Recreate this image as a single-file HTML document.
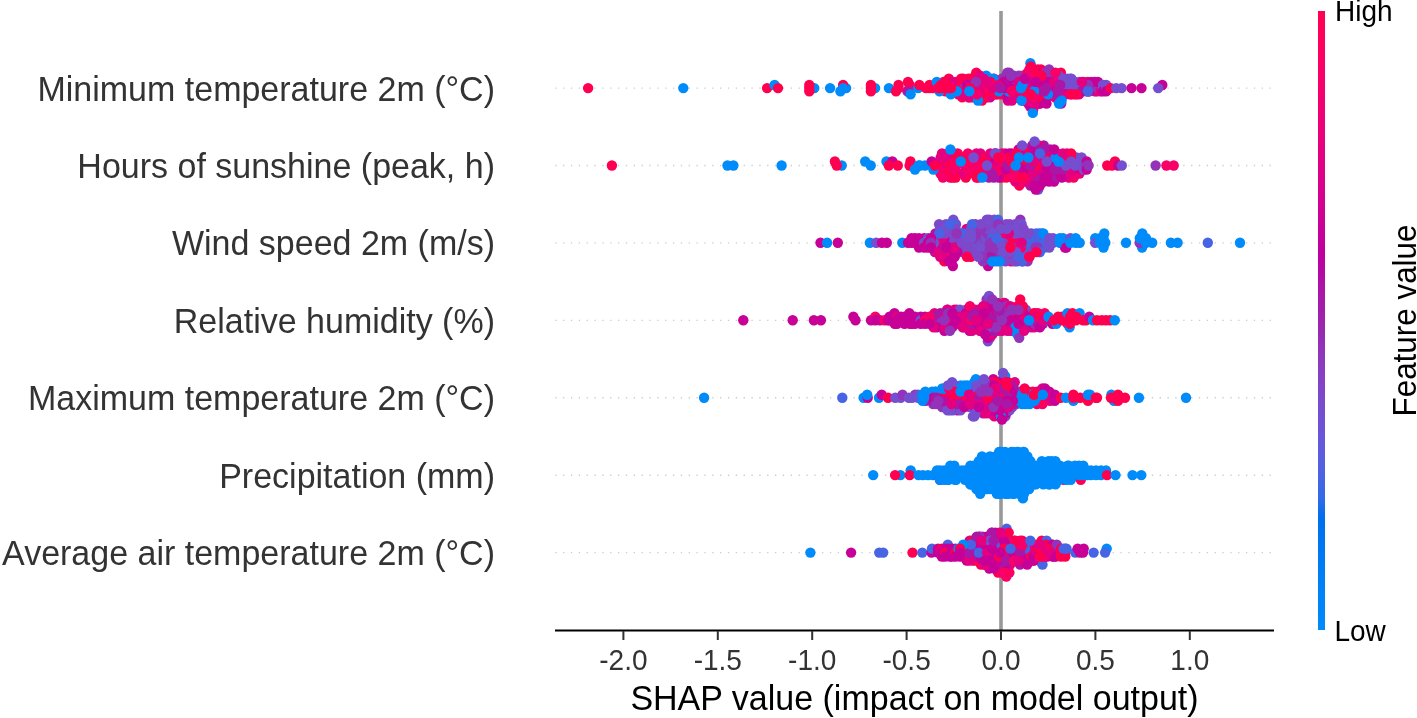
<!DOCTYPE html>
<html><head><meta charset="utf-8"><style>
html,body{margin:0;padding:0;background:#fff;}
body{width:1417px;height:718px;position:relative;overflow:hidden;font-family:"Liberation Sans",sans-serif;}
svg text{font-family:"Liberation Sans",sans-serif;}
.t{filter:grayscale(1)}
</style></head><body>
<svg width="1417" height="718" viewBox="0 0 1417 718" style="position:absolute;left:0;top:0"><defs><linearGradient id="cb" x1="0" y1="1" x2="0" y2="0"><stop offset="0.000" stop-color="#008bfb"/><stop offset="0.030" stop-color="#0086fa"/><stop offset="0.061" stop-color="#0082f8"/><stop offset="0.091" stop-color="#007ef6"/><stop offset="0.121" stop-color="#0079f3"/><stop offset="0.152" stop-color="#0074f0"/><stop offset="0.182" stop-color="#006fed"/><stop offset="0.212" stop-color="#306ae9"/><stop offset="0.242" stop-color="#4664e4"/><stop offset="0.273" stop-color="#575fdf"/><stop offset="0.303" stop-color="#6459da"/><stop offset="0.333" stop-color="#6f52d4"/><stop offset="0.364" stop-color="#794cce"/><stop offset="0.394" stop-color="#8244c7"/><stop offset="0.424" stop-color="#8a3cc0"/><stop offset="0.455" stop-color="#9233b9"/><stop offset="0.485" stop-color="#9829b1"/><stop offset="0.515" stop-color="#a01fab"/><stop offset="0.545" stop-color="#aa17a7"/><stop offset="0.576" stop-color="#b30aa3"/><stop offset="0.606" stop-color="#bc009f"/><stop offset="0.636" stop-color="#c5009a"/><stop offset="0.667" stop-color="#cd0095"/><stop offset="0.697" stop-color="#d40090"/><stop offset="0.727" stop-color="#db008a"/><stop offset="0.758" stop-color="#e10084"/><stop offset="0.788" stop-color="#e7007e"/><stop offset="0.818" stop-color="#ec0078"/><stop offset="0.848" stop-color="#f10072"/><stop offset="0.879" stop-color="#f6006c"/><stop offset="0.909" stop-color="#fa0065"/><stop offset="0.939" stop-color="#fd005f"/><stop offset="0.970" stop-color="#ff0058"/><stop offset="1.000" stop-color="#ff0051"/><stop offset="1" stop-color="#ff0051"/></linearGradient></defs><line x1="555.2" y1="88.1" x2="1274" y2="88.1" stroke="#cccccc" stroke-width="1.4" stroke-dasharray="1.3 6.55"/><line x1="555.2" y1="165.5" x2="1274" y2="165.5" stroke="#cccccc" stroke-width="1.4" stroke-dasharray="1.3 6.55"/><line x1="555.2" y1="242.9" x2="1274" y2="242.9" stroke="#cccccc" stroke-width="1.4" stroke-dasharray="1.3 6.55"/><line x1="555.2" y1="320.4" x2="1274" y2="320.4" stroke="#cccccc" stroke-width="1.4" stroke-dasharray="1.3 6.55"/><line x1="555.2" y1="397.8" x2="1274" y2="397.8" stroke="#cccccc" stroke-width="1.4" stroke-dasharray="1.3 6.55"/><line x1="555.2" y1="475.2" x2="1274" y2="475.2" stroke="#cccccc" stroke-width="1.4" stroke-dasharray="1.3 6.55"/><line x1="555.2" y1="552.6" x2="1274" y2="552.6" stroke="#cccccc" stroke-width="1.4" stroke-dasharray="1.3 6.55"/><rect x="999.2" y="11" width="3.6" height="619" fill="#999999"/><circle cx="985.2" cy="91.2" r="5.2" fill="#ff0051"/><circle cx="1054.9" cy="78.8" r="5.2" fill="#e50080"/><circle cx="1042.7" cy="97.4" r="5.2" fill="#ff0051"/><circle cx="1020.6" cy="85.0" r="5.2" fill="#aa17a7"/><circle cx="984.3" cy="85.0" r="5.2" fill="#c70098"/><circle cx="973.7" cy="88.1" r="5.2" fill="#c70098"/><circle cx="1032.6" cy="85.0" r="5.2" fill="#c70098"/><circle cx="1086.0" cy="91.2" r="5.2" fill="#9233b9"/><circle cx="1086.5" cy="88.1" r="5.2" fill="#9233b9"/><circle cx="1046.2" cy="78.8" r="5.2" fill="#c70098"/><circle cx="1009.2" cy="94.3" r="5.2" fill="#ff0051"/><circle cx="1002.5" cy="81.9" r="5.2" fill="#f80067"/><circle cx="1059.5" cy="94.3" r="5.2" fill="#ff0051"/><circle cx="1038.8" cy="103.6" r="5.2" fill="#c70098"/><circle cx="1016.1" cy="94.3" r="5.2" fill="#ff0051"/><circle cx="973.1" cy="78.8" r="5.2" fill="#e50080"/><circle cx="1037.6" cy="69.5" r="5.2" fill="#f80067"/><circle cx="1069.9" cy="85.0" r="5.2" fill="#764ed0"/><circle cx="1055.1" cy="78.8" r="5.2" fill="#764ed0"/><circle cx="1030.1" cy="103.6" r="5.2" fill="#c70098"/><circle cx="1005.8" cy="78.8" r="5.2" fill="#aa17a7"/><circle cx="1067.4" cy="78.8" r="5.2" fill="#764ed0"/><circle cx="1012.2" cy="85.0" r="5.2" fill="#aa17a7"/><circle cx="1068.4" cy="91.2" r="5.2" fill="#e50080"/><circle cx="1039.7" cy="94.3" r="5.2" fill="#f80067"/><circle cx="1079.1" cy="94.3" r="5.2" fill="#e50080"/><circle cx="1007.6" cy="85.0" r="5.2" fill="#e50080"/><circle cx="1032.7" cy="91.2" r="5.2" fill="#ff0051"/><circle cx="1006.1" cy="75.7" r="5.2" fill="#9233b9"/><circle cx="1061.7" cy="88.1" r="5.2" fill="#764ed0"/><circle cx="1015.3" cy="81.9" r="5.2" fill="#c70098"/><circle cx="1043.7" cy="85.0" r="5.2" fill="#e50080"/><circle cx="1041.0" cy="69.5" r="5.2" fill="#ff0051"/><circle cx="1057.6" cy="85.0" r="5.2" fill="#aa17a7"/><circle cx="1025.6" cy="81.9" r="5.2" fill="#e50080"/><circle cx="1013.5" cy="88.1" r="5.2" fill="#ff0051"/><circle cx="1021.3" cy="91.2" r="5.2" fill="#f80067"/><circle cx="1059.8" cy="100.5" r="5.2" fill="#c70098"/><circle cx="1094.0" cy="88.1" r="5.2" fill="#764ed0"/><circle cx="1026.0" cy="97.4" r="5.2" fill="#c70098"/><circle cx="1036.6" cy="85.0" r="5.2" fill="#e50080"/><circle cx="1087.8" cy="81.9" r="5.2" fill="#ff0051"/><circle cx="1031.0" cy="88.1" r="5.2" fill="#c70098"/><circle cx="1082.9" cy="88.1" r="5.2" fill="#c70098"/><circle cx="1040.0" cy="94.3" r="5.2" fill="#c70098"/><circle cx="1034.4" cy="88.1" r="5.2" fill="#c70098"/><circle cx="966.9" cy="88.1" r="5.2" fill="#ff0051"/><circle cx="1042.0" cy="100.5" r="5.2" fill="#aa17a7"/><circle cx="1077.8" cy="85.0" r="5.2" fill="#764ed0"/><circle cx="1010.4" cy="85.0" r="5.2" fill="#c70098"/><circle cx="978.6" cy="91.2" r="5.2" fill="#c70098"/><circle cx="958.8" cy="91.2" r="5.2" fill="#f80067"/><circle cx="1033.3" cy="94.3" r="5.2" fill="#f80067"/><circle cx="1013.1" cy="94.3" r="5.2" fill="#e50080"/><circle cx="986.0" cy="97.4" r="5.2" fill="#e50080"/><circle cx="1094.8" cy="91.2" r="5.2" fill="#aa17a7"/><circle cx="990.1" cy="97.4" r="5.2" fill="#c70098"/><circle cx="1031.2" cy="88.1" r="5.2" fill="#c70098"/><circle cx="1070.1" cy="78.8" r="5.2" fill="#764ed0"/><circle cx="1066.2" cy="88.1" r="5.2" fill="#764ed0"/><circle cx="1054.3" cy="85.0" r="5.2" fill="#c70098"/><circle cx="946.5" cy="85.0" r="5.2" fill="#f80067"/><circle cx="1042.7" cy="81.9" r="5.2" fill="#aa17a7"/><circle cx="1065.3" cy="81.9" r="5.2" fill="#764ed0"/><circle cx="976.9" cy="78.8" r="5.2" fill="#9233b9"/><circle cx="990.0" cy="85.0" r="5.2" fill="#c70098"/><circle cx="976.1" cy="97.4" r="5.2" fill="#ff0051"/><circle cx="1023.1" cy="81.9" r="5.2" fill="#e50080"/><circle cx="968.2" cy="78.8" r="5.2" fill="#f80067"/><circle cx="980.0" cy="75.7" r="5.2" fill="#e50080"/><circle cx="965.9" cy="81.9" r="5.2" fill="#9233b9"/><circle cx="1019.2" cy="75.7" r="5.2" fill="#9233b9"/><circle cx="1009.2" cy="72.6" r="5.2" fill="#9233b9"/><circle cx="1037.5" cy="81.9" r="5.2" fill="#e50080"/><circle cx="1013.9" cy="85.0" r="5.2" fill="#aa17a7"/><circle cx="1082.8" cy="85.0" r="5.2" fill="#c70098"/><circle cx="981.7" cy="94.3" r="5.2" fill="#e50080"/><circle cx="975.7" cy="91.2" r="5.2" fill="#ff0051"/><circle cx="1038.2" cy="91.2" r="5.2" fill="#e50080"/><circle cx="1030.8" cy="100.5" r="5.2" fill="#f80067"/><circle cx="1088.5" cy="91.2" r="5.2" fill="#aa17a7"/><circle cx="979.2" cy="78.8" r="5.2" fill="#ff0051"/><circle cx="1011.0" cy="94.3" r="5.2" fill="#e50080"/><circle cx="975.0" cy="85.0" r="5.2" fill="#aa17a7"/><circle cx="1004.0" cy="91.2" r="5.2" fill="#ff0051"/><circle cx="997.8" cy="91.2" r="5.2" fill="#e50080"/><circle cx="966.3" cy="94.3" r="5.2" fill="#e50080"/><circle cx="984.4" cy="81.9" r="5.2" fill="#e50080"/><circle cx="976.3" cy="72.6" r="5.2" fill="#ff0051"/><circle cx="1028.2" cy="103.6" r="5.2" fill="#c70098"/><circle cx="1019.1" cy="81.9" r="5.2" fill="#aa17a7"/><circle cx="1077.7" cy="88.1" r="5.2" fill="#764ed0"/><circle cx="1033.1" cy="78.8" r="5.2" fill="#c70098"/><circle cx="1032.6" cy="69.5" r="5.2" fill="#f80067"/><circle cx="1054.9" cy="75.7" r="5.2" fill="#e50080"/><circle cx="977.4" cy="85.0" r="5.2" fill="#c70098"/><circle cx="1053.1" cy="88.1" r="5.2" fill="#c70098"/><circle cx="962.2" cy="97.4" r="5.2" fill="#ff0051"/><circle cx="1069.0" cy="81.9" r="5.2" fill="#764ed0"/><circle cx="1091.7" cy="85.0" r="5.2" fill="#9233b9"/><circle cx="1007.0" cy="88.1" r="5.2" fill="#ff0051"/><circle cx="1000.6" cy="94.3" r="5.2" fill="#f80067"/><circle cx="975.5" cy="75.7" r="5.2" fill="#ff0051"/><circle cx="1066.0" cy="91.2" r="5.2" fill="#e50080"/><circle cx="1035.0" cy="85.0" r="5.2" fill="#c70098"/><circle cx="964.1" cy="88.1" r="5.2" fill="#ff0051"/><circle cx="1046.9" cy="97.4" r="5.2" fill="#c70098"/><circle cx="968.7" cy="97.4" r="5.2" fill="#ff0051"/><circle cx="1029.0" cy="100.5" r="5.2" fill="#c70098"/><circle cx="969.7" cy="91.2" r="5.2" fill="#ff0051"/><circle cx="1043.4" cy="81.9" r="5.2" fill="#aa17a7"/><circle cx="1058.6" cy="100.5" r="5.2" fill="#c70098"/><circle cx="988.9" cy="85.0" r="5.2" fill="#e50080"/><circle cx="1028.2" cy="91.2" r="5.2" fill="#ff0051"/><circle cx="963.4" cy="91.2" r="5.2" fill="#ff0051"/><circle cx="1004.2" cy="81.9" r="5.2" fill="#c70098"/><circle cx="990.4" cy="78.8" r="5.2" fill="#e50080"/><circle cx="1033.2" cy="109.8" r="5.2" fill="#ff0051"/><circle cx="1038.1" cy="100.5" r="5.2" fill="#e50080"/><circle cx="993.2" cy="85.0" r="5.2" fill="#ff0051"/><circle cx="1032.1" cy="97.4" r="5.2" fill="#e50080"/><circle cx="949.7" cy="85.0" r="5.2" fill="#ff0051"/><circle cx="1026.0" cy="91.2" r="5.2" fill="#aa17a7"/><circle cx="1074.8" cy="91.2" r="5.2" fill="#c70098"/><circle cx="1030.6" cy="97.4" r="5.2" fill="#ff0051"/><circle cx="1061.6" cy="91.2" r="5.2" fill="#aa17a7"/><circle cx="1005.5" cy="91.2" r="5.2" fill="#ff0051"/><circle cx="1025.0" cy="94.3" r="5.2" fill="#c70098"/><circle cx="1072.1" cy="91.2" r="5.2" fill="#c70098"/><circle cx="1032.4" cy="81.9" r="5.2" fill="#aa17a7"/><circle cx="1049.2" cy="78.8" r="5.2" fill="#aa17a7"/><circle cx="1055.7" cy="97.4" r="5.2" fill="#ff0051"/><circle cx="1009.7" cy="81.9" r="5.2" fill="#aa17a7"/><circle cx="1011.9" cy="100.5" r="5.2" fill="#e50080"/><circle cx="909.7" cy="88.1" r="5.2" fill="#ff0051"/><circle cx="999.1" cy="81.9" r="5.2" fill="#ff0051"/><circle cx="982.5" cy="88.1" r="5.2" fill="#c70098"/><circle cx="1017.3" cy="97.4" r="5.2" fill="#c70098"/><circle cx="978.1" cy="88.1" r="5.2" fill="#ff0051"/><circle cx="1097.0" cy="91.2" r="5.2" fill="#e50080"/><circle cx="958.5" cy="81.9" r="5.2" fill="#9233b9"/><circle cx="1042.1" cy="72.6" r="5.2" fill="#ff0051"/><circle cx="1081.7" cy="91.2" r="5.2" fill="#c70098"/><circle cx="995.2" cy="91.2" r="5.2" fill="#e50080"/><circle cx="948.2" cy="91.2" r="5.2" fill="#f80067"/><circle cx="1044.7" cy="78.8" r="5.2" fill="#f80067"/><circle cx="1073.9" cy="81.9" r="5.2" fill="#764ed0"/><circle cx="1027.0" cy="97.4" r="5.2" fill="#f80067"/><circle cx="983.9" cy="88.1" r="5.2" fill="#ff0051"/><circle cx="987.7" cy="94.3" r="5.2" fill="#ff0051"/><circle cx="1059.0" cy="81.9" r="5.2" fill="#764ed0"/><circle cx="1045.6" cy="100.5" r="5.2" fill="#aa17a7"/><circle cx="1039.7" cy="75.7" r="5.2" fill="#ff0051"/><circle cx="1098.4" cy="85.0" r="5.2" fill="#764ed0"/><circle cx="1011.5" cy="78.8" r="5.2" fill="#9233b9"/><circle cx="996.1" cy="94.3" r="5.2" fill="#ff0051"/><circle cx="1029.5" cy="81.9" r="5.2" fill="#c70098"/><circle cx="1043.9" cy="100.5" r="5.2" fill="#ff0051"/><circle cx="986.3" cy="97.4" r="5.2" fill="#f80067"/><circle cx="1007.4" cy="97.4" r="5.2" fill="#ff0051"/><circle cx="1016.9" cy="88.1" r="5.2" fill="#c70098"/><circle cx="1031.0" cy="85.0" r="5.2" fill="#e50080"/><circle cx="1012.8" cy="81.9" r="5.2" fill="#aa17a7"/><circle cx="1057.6" cy="88.1" r="5.2" fill="#c70098"/><circle cx="956.1" cy="81.9" r="5.2" fill="#e50080"/><circle cx="1091.5" cy="88.1" r="5.2" fill="#c70098"/><circle cx="1069.3" cy="88.1" r="5.2" fill="#c70098"/><circle cx="1014.0" cy="88.1" r="5.2" fill="#ff0051"/><circle cx="960.0" cy="85.0" r="5.2" fill="#ff0051"/><circle cx="1061.5" cy="81.9" r="5.2" fill="#764ed0"/><circle cx="1050.3" cy="85.0" r="5.2" fill="#ff0051"/><circle cx="1061.2" cy="85.0" r="5.2" fill="#764ed0"/><circle cx="958.2" cy="94.3" r="5.2" fill="#ff0051"/><circle cx="1033.8" cy="72.6" r="5.2" fill="#f80067"/><circle cx="1094.2" cy="81.9" r="5.2" fill="#aa17a7"/><circle cx="959.0" cy="88.1" r="5.2" fill="#e50080"/><circle cx="1077.6" cy="91.2" r="5.2" fill="#c70098"/><circle cx="1007.9" cy="100.5" r="5.2" fill="#e50080"/><circle cx="1045.7" cy="72.6" r="5.2" fill="#9233b9"/><circle cx="962.8" cy="85.0" r="5.2" fill="#9233b9"/><circle cx="1031.4" cy="75.7" r="5.2" fill="#aa17a7"/><circle cx="1059.2" cy="97.4" r="5.2" fill="#ff0051"/><circle cx="1008.0" cy="94.3" r="5.2" fill="#e50080"/><circle cx="1046.0" cy="85.0" r="5.2" fill="#c70098"/><circle cx="999.2" cy="91.2" r="5.2" fill="#e50080"/><circle cx="1082.4" cy="85.0" r="5.2" fill="#c70098"/><circle cx="909.6" cy="85.0" r="5.2" fill="#f80067"/><circle cx="1049.3" cy="91.2" r="5.2" fill="#c70098"/><circle cx="990.5" cy="94.3" r="5.2" fill="#e50080"/><circle cx="1046.5" cy="94.3" r="5.2" fill="#aa17a7"/><circle cx="945.4" cy="91.2" r="5.2" fill="#ff0051"/><circle cx="993.6" cy="81.9" r="5.2" fill="#e50080"/><circle cx="1058.2" cy="91.2" r="5.2" fill="#c70098"/><circle cx="1088.9" cy="91.2" r="5.2" fill="#c70098"/><circle cx="1076.2" cy="88.1" r="5.2" fill="#764ed0"/><circle cx="982.6" cy="94.3" r="5.2" fill="#ff0051"/><circle cx="960.1" cy="91.2" r="5.2" fill="#ff0051"/><circle cx="1007.3" cy="72.6" r="5.2" fill="#9233b9"/><circle cx="1098.3" cy="88.1" r="5.2" fill="#764ed0"/><circle cx="986.3" cy="88.1" r="5.2" fill="#e50080"/><circle cx="1047.4" cy="94.3" r="5.2" fill="#ff0051"/><circle cx="1065.4" cy="85.0" r="5.2" fill="#764ed0"/><circle cx="1030.4" cy="63.3" r="5.2" fill="#008bfb"/><circle cx="1045.2" cy="75.7" r="5.2" fill="#e50080"/><circle cx="980.2" cy="97.4" r="5.2" fill="#f80067"/><circle cx="1055.3" cy="75.7" r="5.2" fill="#ff0051"/><circle cx="1074.7" cy="94.3" r="5.2" fill="#ff0051"/><circle cx="1096.6" cy="85.0" r="5.2" fill="#764ed0"/><circle cx="1074.8" cy="81.9" r="5.2" fill="#764ed0"/><circle cx="1025.6" cy="75.7" r="5.2" fill="#ff0051"/><circle cx="965.1" cy="91.2" r="5.2" fill="#e50080"/><circle cx="1073.2" cy="85.0" r="5.2" fill="#764ed0"/><circle cx="1098.4" cy="88.1" r="5.2" fill="#764ed0"/><circle cx="1061.2" cy="103.6" r="5.2" fill="#aa17a7"/><circle cx="1039.8" cy="78.8" r="5.2" fill="#ff0051"/><circle cx="1017.2" cy="78.8" r="5.2" fill="#9233b9"/><circle cx="1021.5" cy="78.8" r="5.2" fill="#e50080"/><circle cx="1074.7" cy="85.0" r="5.2" fill="#764ed0"/><circle cx="972.1" cy="94.3" r="5.2" fill="#f80067"/><circle cx="1072.8" cy="88.1" r="5.2" fill="#764ed0"/><circle cx="1016.9" cy="85.0" r="5.2" fill="#e50080"/><circle cx="1093.9" cy="85.0" r="5.2" fill="#9233b9"/><circle cx="1025.6" cy="75.7" r="5.2" fill="#f80067"/><circle cx="1025.0" cy="100.5" r="5.2" fill="#ff0051"/><circle cx="1051.3" cy="94.3" r="5.2" fill="#aa17a7"/><circle cx="1047.8" cy="75.7" r="5.2" fill="#c70098"/><circle cx="1083.2" cy="88.1" r="5.2" fill="#aa17a7"/><circle cx="972.3" cy="81.9" r="5.2" fill="#9233b9"/><circle cx="952.4" cy="85.0" r="5.2" fill="#e50080"/><circle cx="986.7" cy="78.8" r="5.2" fill="#f80067"/><circle cx="970.5" cy="78.8" r="5.2" fill="#ff0051"/><circle cx="1055.1" cy="94.3" r="5.2" fill="#ff0051"/><circle cx="1065.7" cy="94.3" r="5.2" fill="#c70098"/><circle cx="949.5" cy="81.9" r="5.2" fill="#e50080"/><circle cx="971.2" cy="81.9" r="5.2" fill="#ff0051"/><circle cx="1079.3" cy="81.9" r="5.2" fill="#764ed0"/><circle cx="1028.7" cy="78.8" r="5.2" fill="#e50080"/><circle cx="1046.5" cy="88.1" r="5.2" fill="#e50080"/><circle cx="963.1" cy="78.8" r="5.2" fill="#ff0051"/><circle cx="1049.4" cy="72.6" r="5.2" fill="#9233b9"/><circle cx="957.9" cy="88.1" r="5.2" fill="#ff0051"/><circle cx="1095.1" cy="81.9" r="5.2" fill="#aa17a7"/><circle cx="1028.4" cy="78.8" r="5.2" fill="#e50080"/><circle cx="1014.2" cy="78.8" r="5.2" fill="#9233b9"/><circle cx="1014.0" cy="75.7" r="5.2" fill="#9233b9"/><circle cx="962.5" cy="81.9" r="5.2" fill="#9233b9"/><circle cx="1027.5" cy="85.0" r="5.2" fill="#e50080"/><circle cx="1036.0" cy="91.2" r="5.2" fill="#c70098"/><circle cx="1038.2" cy="78.8" r="5.2" fill="#c70098"/><circle cx="993.4" cy="88.1" r="5.2" fill="#c70098"/><circle cx="991.1" cy="91.2" r="5.2" fill="#ff0051"/><circle cx="1048.1" cy="81.9" r="5.2" fill="#c70098"/><circle cx="961.2" cy="78.8" r="5.2" fill="#ff0051"/><circle cx="1016.6" cy="97.4" r="5.2" fill="#c70098"/><circle cx="1031.0" cy="66.4" r="5.2" fill="#ff0051"/><circle cx="1036.7" cy="72.6" r="5.2" fill="#e50080"/><circle cx="971.1" cy="94.3" r="5.2" fill="#ff0051"/><circle cx="1030.1" cy="78.8" r="5.2" fill="#c70098"/><circle cx="1017.0" cy="91.2" r="5.2" fill="#ff0051"/><circle cx="1051.8" cy="91.2" r="5.2" fill="#c70098"/><circle cx="1091.3" cy="81.9" r="5.2" fill="#c70098"/><circle cx="1060.9" cy="72.6" r="5.2" fill="#ff0051"/><circle cx="1028.4" cy="75.7" r="5.2" fill="#e50080"/><circle cx="1050.6" cy="88.1" r="5.2" fill="#aa17a7"/><circle cx="907.4" cy="91.2" r="5.2" fill="#aa17a7"/><circle cx="1002.0" cy="78.8" r="5.2" fill="#9233b9"/><circle cx="1025.6" cy="85.0" r="5.2" fill="#aa17a7"/><circle cx="1009.6" cy="88.1" r="5.2" fill="#c70098"/><circle cx="1059.1" cy="88.1" r="5.2" fill="#aa17a7"/><circle cx="1040.1" cy="85.0" r="5.2" fill="#c70098"/><circle cx="1010.1" cy="91.2" r="5.2" fill="#ff0051"/><circle cx="1061.1" cy="94.3" r="5.2" fill="#e50080"/><circle cx="1022.4" cy="75.7" r="5.2" fill="#9233b9"/><circle cx="945.2" cy="88.1" r="5.2" fill="#ff0051"/><circle cx="1041.3" cy="88.1" r="5.2" fill="#c70098"/><circle cx="1083.5" cy="81.9" r="5.2" fill="#c70098"/><circle cx="1023.9" cy="88.1" r="5.2" fill="#aa17a7"/><circle cx="943.6" cy="81.9" r="5.2" fill="#ff0051"/><circle cx="1044.4" cy="97.4" r="5.2" fill="#ff0051"/><circle cx="1052.7" cy="81.9" r="5.2" fill="#c70098"/><circle cx="994.0" cy="78.8" r="5.2" fill="#f80067"/><circle cx="1032.0" cy="94.3" r="5.2" fill="#c70098"/><circle cx="1010.7" cy="75.7" r="5.2" fill="#9233b9"/><circle cx="971.0" cy="85.0" r="5.2" fill="#e50080"/><circle cx="1034.5" cy="75.7" r="5.2" fill="#e50080"/><circle cx="1009.6" cy="78.8" r="5.2" fill="#c70098"/><circle cx="1059.8" cy="78.8" r="5.2" fill="#764ed0"/><circle cx="1040.1" cy="103.6" r="5.2" fill="#c70098"/><circle cx="1033.1" cy="72.6" r="5.2" fill="#ff0051"/><circle cx="1034.4" cy="100.5" r="5.2" fill="#ff0051"/><circle cx="1005.3" cy="94.3" r="5.2" fill="#f80067"/><circle cx="1026.7" cy="88.1" r="5.2" fill="#e50080"/><circle cx="981.5" cy="81.9" r="5.2" fill="#9233b9"/><circle cx="1029.5" cy="69.5" r="5.2" fill="#ff0051"/><circle cx="1033.7" cy="103.6" r="5.2" fill="#ff0051"/><circle cx="987.5" cy="91.2" r="5.2" fill="#ff0051"/><circle cx="1022.7" cy="100.5" r="5.2" fill="#c70098"/><circle cx="1037.2" cy="97.4" r="5.2" fill="#ff0051"/><circle cx="996.9" cy="94.3" r="5.2" fill="#ff0051"/><circle cx="1030.3" cy="106.7" r="5.2" fill="#c70098"/><circle cx="979.3" cy="85.0" r="5.2" fill="#e50080"/><circle cx="980.1" cy="91.2" r="5.2" fill="#e50080"/><circle cx="1018.9" cy="81.9" r="5.2" fill="#e50080"/><circle cx="998.4" cy="88.1" r="5.2" fill="#c70098"/><circle cx="1088.0" cy="85.0" r="5.2" fill="#9233b9"/><circle cx="986.2" cy="75.7" r="5.2" fill="#008bfb"/><circle cx="972.7" cy="97.4" r="5.2" fill="#ff0051"/><circle cx="1058.8" cy="75.7" r="5.2" fill="#764ed0"/><circle cx="948.8" cy="78.8" r="5.2" fill="#ff0051"/><circle cx="1046.5" cy="103.6" r="5.2" fill="#c70098"/><circle cx="1021.0" cy="94.3" r="5.2" fill="#ff0051"/><circle cx="1032.8" cy="112.9" r="5.2" fill="#008bfb"/><circle cx="1060.0" cy="81.9" r="5.2" fill="#764ed0"/><circle cx="982.0" cy="100.5" r="5.2" fill="#ff0051"/><circle cx="993.5" cy="78.8" r="5.2" fill="#008bfb"/><circle cx="1003.8" cy="81.9" r="5.2" fill="#c70098"/><circle cx="1022.2" cy="88.1" r="5.2" fill="#aa17a7"/><circle cx="969.6" cy="97.4" r="5.2" fill="#e50080"/><circle cx="1055.1" cy="97.4" r="5.2" fill="#e50080"/><circle cx="1055.3" cy="94.3" r="5.2" fill="#aa17a7"/><circle cx="967.1" cy="85.0" r="5.2" fill="#c70098"/><circle cx="1049.1" cy="69.5" r="5.2" fill="#9233b9"/><circle cx="1017.9" cy="94.3" r="5.2" fill="#ff0051"/><circle cx="955.4" cy="85.0" r="5.2" fill="#ff0051"/><circle cx="1087.9" cy="91.2" r="5.2" fill="#4664e4"/><circle cx="954.1" cy="91.2" r="5.2" fill="#ff0051"/><circle cx="1036.5" cy="88.1" r="5.2" fill="#c70098"/><circle cx="950.8" cy="94.3" r="5.2" fill="#008bfb"/><circle cx="1034.2" cy="103.6" r="5.2" fill="#e50080"/><circle cx="1076.3" cy="94.3" r="5.2" fill="#ff0051"/><circle cx="1015.5" cy="91.2" r="5.2" fill="#f80067"/><circle cx="1025.1" cy="94.3" r="5.2" fill="#e50080"/><circle cx="1003.8" cy="85.0" r="5.2" fill="#aa17a7"/><circle cx="990.3" cy="81.9" r="5.2" fill="#ff0051"/><circle cx="1061.6" cy="100.5" r="5.2" fill="#008bfb"/><circle cx="1100.7" cy="91.2" r="5.2" fill="#e50080"/><circle cx="962.1" cy="94.3" r="5.2" fill="#e50080"/><circle cx="948.0" cy="88.1" r="5.2" fill="#ff0051"/><circle cx="1007.7" cy="97.4" r="5.2" fill="#c70098"/><circle cx="1062.7" cy="78.8" r="5.2" fill="#764ed0"/><circle cx="1028.5" cy="100.5" r="5.2" fill="#e50080"/><circle cx="952.3" cy="81.9" r="5.2" fill="#e50080"/><circle cx="1053.3" cy="91.2" r="5.2" fill="#c70098"/><circle cx="1081.9" cy="81.9" r="5.2" fill="#e50080"/><circle cx="1021.6" cy="97.4" r="5.2" fill="#e50080"/><circle cx="1048.0" cy="94.3" r="5.2" fill="#008bfb"/><circle cx="998.9" cy="91.2" r="5.2" fill="#008bfb"/><circle cx="908.0" cy="81.9" r="5.2" fill="#ff0051"/><circle cx="1098.0" cy="81.9" r="5.2" fill="#c70098"/><circle cx="1041.1" cy="91.2" r="5.2" fill="#e50080"/><circle cx="1012.7" cy="97.4" r="5.2" fill="#e50080"/><circle cx="1021.5" cy="100.5" r="5.2" fill="#008bfb"/><circle cx="978.0" cy="100.5" r="5.2" fill="#008bfb"/><circle cx="1010.9" cy="75.7" r="5.2" fill="#9233b9"/><circle cx="956.7" cy="91.2" r="5.2" fill="#008bfb"/><circle cx="951.0" cy="88.1" r="5.2" fill="#ff0051"/><circle cx="1041.4" cy="75.7" r="5.2" fill="#ff0051"/><circle cx="1055.5" cy="72.6" r="5.2" fill="#f80067"/><circle cx="1046.4" cy="88.1" r="5.2" fill="#aa17a7"/><circle cx="1008.9" cy="91.2" r="5.2" fill="#008bfb"/><circle cx="1005.3" cy="88.1" r="5.2" fill="#c70098"/><circle cx="1024.8" cy="91.2" r="5.2" fill="#ff0051"/><circle cx="983.7" cy="78.8" r="5.2" fill="#e50080"/><circle cx="1012.1" cy="91.2" r="5.2" fill="#f80067"/><circle cx="1071.4" cy="78.8" r="5.2" fill="#764ed0"/><circle cx="976.9" cy="94.3" r="5.2" fill="#f80067"/><circle cx="979.4" cy="75.7" r="5.2" fill="#e50080"/><circle cx="1034.2" cy="91.2" r="5.2" fill="#008bfb"/><circle cx="1029.4" cy="72.6" r="5.2" fill="#f80067"/><circle cx="1021.0" cy="88.1" r="5.2" fill="#008bfb"/><circle cx="1054.2" cy="81.9" r="5.2" fill="#e50080"/><circle cx="992.7" cy="88.1" r="5.2" fill="#e50080"/><circle cx="1022.4" cy="85.0" r="5.2" fill="#008bfb"/><circle cx="1070.2" cy="94.3" r="5.2" fill="#e50080"/><circle cx="1059.0" cy="103.6" r="5.2" fill="#008bfb"/><circle cx="986.8" cy="81.9" r="5.2" fill="#e50080"/><circle cx="975.9" cy="81.9" r="5.2" fill="#9233b9"/><circle cx="1001.7" cy="85.0" r="5.2" fill="#c70098"/><circle cx="1033.5" cy="97.4" r="5.2" fill="#f80067"/><circle cx="998.4" cy="85.0" r="5.2" fill="#e50080"/><circle cx="1033.2" cy="69.5" r="5.2" fill="#ff0051"/><circle cx="910.6" cy="94.3" r="5.2" fill="#008bfb"/><circle cx="969.9" cy="88.1" r="5.2" fill="#ff0051"/><circle cx="1030.5" cy="94.3" r="5.2" fill="#ff0051"/><circle cx="1000.3" cy="88.1" r="5.2" fill="#aa17a7"/><circle cx="1027.5" cy="72.6" r="5.2" fill="#f80067"/><circle cx="1044.3" cy="91.2" r="5.2" fill="#aa17a7"/><circle cx="1071.4" cy="94.3" r="5.2" fill="#ff0051"/><circle cx="1024.8" cy="78.8" r="5.2" fill="#c70098"/><circle cx="1058.0" cy="91.2" r="5.2" fill="#aa17a7"/><circle cx="1035.7" cy="81.9" r="5.2" fill="#c70098"/><circle cx="1060.3" cy="85.0" r="5.2" fill="#aa17a7"/><circle cx="969.3" cy="91.2" r="5.2" fill="#008bfb"/><circle cx="588.1" cy="88.1" r="5.2" fill="#ff0051"/><circle cx="683.3" cy="88.1" r="5.2" fill="#008bfb"/><circle cx="767.1" cy="88.1" r="5.2" fill="#ff0051"/><circle cx="774.6" cy="85.0" r="5.2" fill="#008bfb"/><circle cx="778.0" cy="88.1" r="5.2" fill="#ff0051"/><circle cx="814.3" cy="88.1" r="5.2" fill="#008bfb"/><circle cx="809.3" cy="85.0" r="5.2" fill="#ff0051"/><circle cx="809.3" cy="88.1" r="5.2" fill="#ff0051"/><circle cx="809.3" cy="91.2" r="5.2" fill="#ff0051"/><circle cx="830.1" cy="88.1" r="5.2" fill="#008bfb"/><circle cx="846.1" cy="88.1" r="5.2" fill="#008bfb"/><circle cx="840.4" cy="91.2" r="5.2" fill="#008bfb"/><circle cx="843.1" cy="85.0" r="5.2" fill="#ff0051"/><circle cx="843.1" cy="88.1" r="5.2" fill="#008bfb"/><circle cx="875.1" cy="88.1" r="5.2" fill="#008bfb"/><circle cx="870.9" cy="85.0" r="5.2" fill="#ff0051"/><circle cx="870.9" cy="88.1" r="5.2" fill="#ff0051"/><circle cx="870.9" cy="91.2" r="5.2" fill="#ff0051"/><circle cx="888.9" cy="88.1" r="5.2" fill="#008bfb"/><circle cx="898.5" cy="85.0" r="5.2" fill="#ff0051"/><circle cx="898.5" cy="88.1" r="5.2" fill="#ff0051"/><circle cx="896.0" cy="91.2" r="5.2" fill="#ff0051"/><circle cx="918.1" cy="88.1" r="5.2" fill="#008bfb"/><circle cx="919.4" cy="85.0" r="5.2" fill="#ff0051"/><circle cx="926.0" cy="88.1" r="5.2" fill="#ff0051"/><circle cx="929.5" cy="85.0" r="5.2" fill="#ff0051"/><circle cx="929.5" cy="88.1" r="5.2" fill="#ff0051"/><circle cx="933.0" cy="88.1" r="5.2" fill="#ff0051"/><circle cx="936.8" cy="81.9" r="5.2" fill="#008bfb"/><circle cx="939.5" cy="91.2" r="5.2" fill="#008bfb"/><circle cx="938.0" cy="88.1" r="5.2" fill="#ff0051"/><circle cx="941.0" cy="85.0" r="5.2" fill="#ff0051"/><circle cx="941.0" cy="88.1" r="5.2" fill="#ff0051"/><circle cx="945.0" cy="81.9" r="5.2" fill="#ff0051"/><circle cx="945.0" cy="85.0" r="5.2" fill="#ff0051"/><circle cx="945.0" cy="88.1" r="5.2" fill="#ff0051"/><circle cx="1103.0" cy="85.0" r="5.2" fill="#764ed0"/><circle cx="1103.0" cy="88.1" r="5.2" fill="#764ed0"/><circle cx="1103.0" cy="91.2" r="5.2" fill="#c70098"/><circle cx="1106.2" cy="85.0" r="5.2" fill="#764ed0"/><circle cx="1106.2" cy="88.1" r="5.2" fill="#764ed0"/><circle cx="1106.2" cy="91.2" r="5.2" fill="#c70098"/><circle cx="1110.7" cy="88.1" r="5.2" fill="#ff0051"/><circle cx="1116.2" cy="88.1" r="5.2" fill="#764ed0"/><circle cx="1121.6" cy="88.1" r="5.2" fill="#764ed0"/><circle cx="1131.5" cy="88.1" r="5.2" fill="#c70098"/><circle cx="1141.5" cy="88.1" r="5.2" fill="#c70098"/><circle cx="1162.3" cy="85.0" r="5.2" fill="#c70098"/><circle cx="1158.2" cy="88.1" r="5.2" fill="#764ed0"/><circle cx="1021.8" cy="173.5" r="5.2" fill="#e50080"/><circle cx="953.9" cy="161.5" r="5.2" fill="#ff0051"/><circle cx="1006.2" cy="177.5" r="5.2" fill="#ff0051"/><circle cx="1032.8" cy="181.5" r="5.2" fill="#e50080"/><circle cx="989.5" cy="169.5" r="5.2" fill="#e50080"/><circle cx="1049.7" cy="177.5" r="5.2" fill="#e50080"/><circle cx="979.6" cy="173.5" r="5.2" fill="#e50080"/><circle cx="1050.2" cy="149.5" r="5.2" fill="#aa17a7"/><circle cx="941.6" cy="161.5" r="5.2" fill="#e50080"/><circle cx="1055.4" cy="157.5" r="5.2" fill="#008bfb"/><circle cx="1054.1" cy="161.5" r="5.2" fill="#c70098"/><circle cx="951.0" cy="157.5" r="5.2" fill="#ff0051"/><circle cx="996.0" cy="165.5" r="5.2" fill="#c70098"/><circle cx="1045.5" cy="173.5" r="5.2" fill="#e50080"/><circle cx="1001.9" cy="153.5" r="5.2" fill="#e50080"/><circle cx="1030.1" cy="153.5" r="5.2" fill="#ff0051"/><circle cx="1000.2" cy="165.5" r="5.2" fill="#c70098"/><circle cx="1037.3" cy="173.5" r="5.2" fill="#e50080"/><circle cx="974.8" cy="169.5" r="5.2" fill="#f80067"/><circle cx="1054.0" cy="181.5" r="5.2" fill="#c70098"/><circle cx="991.7" cy="161.5" r="5.2" fill="#e50080"/><circle cx="994.0" cy="169.5" r="5.2" fill="#c70098"/><circle cx="1071.1" cy="169.5" r="5.2" fill="#764ed0"/><circle cx="949.1" cy="161.5" r="5.2" fill="#ff0051"/><circle cx="1033.9" cy="149.5" r="5.2" fill="#aa17a7"/><circle cx="1037.2" cy="153.5" r="5.2" fill="#c70098"/><circle cx="996.5" cy="153.5" r="5.2" fill="#764ed0"/><circle cx="1016.1" cy="169.5" r="5.2" fill="#ff0051"/><circle cx="956.2" cy="165.5" r="5.2" fill="#ff0051"/><circle cx="1012.5" cy="165.5" r="5.2" fill="#c70098"/><circle cx="1076.5" cy="157.5" r="5.2" fill="#764ed0"/><circle cx="987.9" cy="157.5" r="5.2" fill="#e50080"/><circle cx="983.8" cy="173.5" r="5.2" fill="#ff0051"/><circle cx="1035.6" cy="181.5" r="5.2" fill="#c70098"/><circle cx="965.8" cy="177.5" r="5.2" fill="#ff0051"/><circle cx="1022.6" cy="153.5" r="5.2" fill="#e50080"/><circle cx="940.5" cy="173.5" r="5.2" fill="#f80067"/><circle cx="1011.4" cy="173.5" r="5.2" fill="#ff0051"/><circle cx="990.5" cy="165.5" r="5.2" fill="#c70098"/><circle cx="1061.1" cy="165.5" r="5.2" fill="#764ed0"/><circle cx="976.4" cy="153.5" r="5.2" fill="#e50080"/><circle cx="1043.8" cy="145.5" r="5.2" fill="#aa17a7"/><circle cx="1079.1" cy="165.5" r="5.2" fill="#764ed0"/><circle cx="1062.1" cy="157.5" r="5.2" fill="#aa17a7"/><circle cx="1076.2" cy="173.5" r="5.2" fill="#764ed0"/><circle cx="968.8" cy="173.5" r="5.2" fill="#ff0051"/><circle cx="1001.5" cy="177.5" r="5.2" fill="#ff0051"/><circle cx="1065.5" cy="161.5" r="5.2" fill="#764ed0"/><circle cx="1033.5" cy="153.5" r="5.2" fill="#f80067"/><circle cx="957.7" cy="153.5" r="5.2" fill="#f80067"/><circle cx="1053.3" cy="173.5" r="5.2" fill="#c70098"/><circle cx="1027.0" cy="157.5" r="5.2" fill="#e50080"/><circle cx="988.9" cy="177.5" r="5.2" fill="#aa17a7"/><circle cx="1045.8" cy="153.5" r="5.2" fill="#c70098"/><circle cx="984.0" cy="165.5" r="5.2" fill="#f80067"/><circle cx="1030.4" cy="185.5" r="5.2" fill="#aa17a7"/><circle cx="1069.1" cy="161.5" r="5.2" fill="#764ed0"/><circle cx="1024.8" cy="165.5" r="5.2" fill="#e50080"/><circle cx="1028.4" cy="161.5" r="5.2" fill="#c70098"/><circle cx="980.8" cy="161.5" r="5.2" fill="#ff0051"/><circle cx="1020.3" cy="149.5" r="5.2" fill="#e50080"/><circle cx="1060.3" cy="169.5" r="5.2" fill="#c70098"/><circle cx="955.4" cy="157.5" r="5.2" fill="#ff0051"/><circle cx="1018.9" cy="165.5" r="5.2" fill="#f80067"/><circle cx="1081.1" cy="169.5" r="5.2" fill="#764ed0"/><circle cx="967.2" cy="157.5" r="5.2" fill="#ff0051"/><circle cx="973.6" cy="157.5" r="5.2" fill="#ff0051"/><circle cx="1022.3" cy="181.5" r="5.2" fill="#ff0051"/><circle cx="1053.1" cy="165.5" r="5.2" fill="#e50080"/><circle cx="1033.2" cy="157.5" r="5.2" fill="#c70098"/><circle cx="967.9" cy="153.5" r="5.2" fill="#f80067"/><circle cx="983.6" cy="169.5" r="5.2" fill="#ff0051"/><circle cx="1068.8" cy="177.5" r="5.2" fill="#e50080"/><circle cx="1076.6" cy="161.5" r="5.2" fill="#764ed0"/><circle cx="1013.2" cy="173.5" r="5.2" fill="#ff0051"/><circle cx="1066.3" cy="157.5" r="5.2" fill="#f80067"/><circle cx="987.3" cy="161.5" r="5.2" fill="#e50080"/><circle cx="1039.4" cy="177.5" r="5.2" fill="#f80067"/><circle cx="1048.5" cy="153.5" r="5.2" fill="#e50080"/><circle cx="978.3" cy="177.5" r="5.2" fill="#f80067"/><circle cx="1027.4" cy="165.5" r="5.2" fill="#764ed0"/><circle cx="945.2" cy="165.5" r="5.2" fill="#f80067"/><circle cx="1034.9" cy="161.5" r="5.2" fill="#e50080"/><circle cx="1035.7" cy="145.5" r="5.2" fill="#008bfb"/><circle cx="1005.7" cy="173.5" r="5.2" fill="#ff0051"/><circle cx="968.3" cy="161.5" r="5.2" fill="#e50080"/><circle cx="1011.4" cy="169.5" r="5.2" fill="#e50080"/><circle cx="1067.1" cy="153.5" r="5.2" fill="#e50080"/><circle cx="1019.3" cy="185.5" r="5.2" fill="#ff0051"/><circle cx="980.7" cy="169.5" r="5.2" fill="#e50080"/><circle cx="992.4" cy="165.5" r="5.2" fill="#ff0051"/><circle cx="990.8" cy="173.5" r="5.2" fill="#e50080"/><circle cx="965.8" cy="169.5" r="5.2" fill="#f80067"/><circle cx="956.9" cy="161.5" r="5.2" fill="#f80067"/><circle cx="1071.1" cy="153.5" r="5.2" fill="#ff0051"/><circle cx="1038.2" cy="189.5" r="5.2" fill="#764ed0"/><circle cx="1045.7" cy="169.5" r="5.2" fill="#e50080"/><circle cx="1074.3" cy="169.5" r="5.2" fill="#764ed0"/><circle cx="1070.7" cy="165.5" r="5.2" fill="#764ed0"/><circle cx="1020.5" cy="157.5" r="5.2" fill="#c70098"/><circle cx="1022.6" cy="157.5" r="5.2" fill="#c70098"/><circle cx="1049.3" cy="169.5" r="5.2" fill="#aa17a7"/><circle cx="980.8" cy="165.5" r="5.2" fill="#ff0051"/><circle cx="1002.7" cy="161.5" r="5.2" fill="#ff0051"/><circle cx="942.6" cy="161.5" r="5.2" fill="#ff0051"/><circle cx="1020.9" cy="161.5" r="5.2" fill="#ff0051"/><circle cx="1039.9" cy="181.5" r="5.2" fill="#c70098"/><circle cx="1081.6" cy="157.5" r="5.2" fill="#764ed0"/><circle cx="1066.3" cy="169.5" r="5.2" fill="#764ed0"/><circle cx="980.2" cy="157.5" r="5.2" fill="#e50080"/><circle cx="1026.4" cy="173.5" r="5.2" fill="#aa17a7"/><circle cx="976.1" cy="173.5" r="5.2" fill="#ff0051"/><circle cx="1023.8" cy="181.5" r="5.2" fill="#f80067"/><circle cx="948.0" cy="153.5" r="5.2" fill="#f80067"/><circle cx="1049.2" cy="181.5" r="5.2" fill="#c70098"/><circle cx="1011.8" cy="153.5" r="5.2" fill="#ff0051"/><circle cx="1006.1" cy="165.5" r="5.2" fill="#aa17a7"/><circle cx="1025.3" cy="149.5" r="5.2" fill="#ff0051"/><circle cx="1027.4" cy="169.5" r="5.2" fill="#c70098"/><circle cx="1002.9" cy="173.5" r="5.2" fill="#ff0051"/><circle cx="945.1" cy="157.5" r="5.2" fill="#e50080"/><circle cx="1005.2" cy="153.5" r="5.2" fill="#e50080"/><circle cx="998.8" cy="177.5" r="5.2" fill="#c70098"/><circle cx="1070.9" cy="157.5" r="5.2" fill="#ff0051"/><circle cx="1081.2" cy="161.5" r="5.2" fill="#764ed0"/><circle cx="965.1" cy="165.5" r="5.2" fill="#f80067"/><circle cx="1038.7" cy="173.5" r="5.2" fill="#c70098"/><circle cx="950.4" cy="177.5" r="5.2" fill="#e50080"/><circle cx="1030.2" cy="177.5" r="5.2" fill="#c70098"/><circle cx="1044.8" cy="177.5" r="5.2" fill="#c70098"/><circle cx="1056.5" cy="177.5" r="5.2" fill="#aa17a7"/><circle cx="1063.9" cy="173.5" r="5.2" fill="#e50080"/><circle cx="962.7" cy="161.5" r="5.2" fill="#f80067"/><circle cx="940.9" cy="165.5" r="5.2" fill="#ff0051"/><circle cx="1034.9" cy="177.5" r="5.2" fill="#aa17a7"/><circle cx="995.2" cy="173.5" r="5.2" fill="#ff0051"/><circle cx="1004.5" cy="161.5" r="5.2" fill="#ff0051"/><circle cx="1064.1" cy="157.5" r="5.2" fill="#ff0051"/><circle cx="940.7" cy="157.5" r="5.2" fill="#e50080"/><circle cx="944.2" cy="169.5" r="5.2" fill="#e50080"/><circle cx="1016.6" cy="177.5" r="5.2" fill="#e50080"/><circle cx="1027.7" cy="177.5" r="5.2" fill="#ff0051"/><circle cx="950.3" cy="165.5" r="5.2" fill="#f80067"/><circle cx="945.4" cy="173.5" r="5.2" fill="#ff0051"/><circle cx="1048.9" cy="161.5" r="5.2" fill="#c70098"/><circle cx="1039.9" cy="185.5" r="5.2" fill="#c70098"/><circle cx="1015.4" cy="181.5" r="5.2" fill="#e50080"/><circle cx="996.6" cy="169.5" r="5.2" fill="#f80067"/><circle cx="1037.3" cy="169.5" r="5.2" fill="#e50080"/><circle cx="954.8" cy="173.5" r="5.2" fill="#ff0051"/><circle cx="1026.8" cy="181.5" r="5.2" fill="#e50080"/><circle cx="985.1" cy="161.5" r="5.2" fill="#ff0051"/><circle cx="1062.2" cy="165.5" r="5.2" fill="#764ed0"/><circle cx="1016.5" cy="173.5" r="5.2" fill="#c70098"/><circle cx="1049.0" cy="157.5" r="5.2" fill="#e50080"/><circle cx="1032.2" cy="145.5" r="5.2" fill="#aa17a7"/><circle cx="1002.3" cy="169.5" r="5.2" fill="#f80067"/><circle cx="1038.8" cy="145.5" r="5.2" fill="#e50080"/><circle cx="1030.6" cy="169.5" r="5.2" fill="#f80067"/><circle cx="953.9" cy="153.5" r="5.2" fill="#ff0051"/><circle cx="1019.3" cy="169.5" r="5.2" fill="#c70098"/><circle cx="1006.0" cy="169.5" r="5.2" fill="#c70098"/><circle cx="953.8" cy="173.5" r="5.2" fill="#e50080"/><circle cx="1018.4" cy="161.5" r="5.2" fill="#c70098"/><circle cx="946.9" cy="157.5" r="5.2" fill="#e50080"/><circle cx="1057.0" cy="153.5" r="5.2" fill="#e50080"/><circle cx="1035.7" cy="189.5" r="5.2" fill="#c70098"/><circle cx="955.3" cy="169.5" r="5.2" fill="#f80067"/><circle cx="1042.8" cy="165.5" r="5.2" fill="#c70098"/><circle cx="1022.0" cy="161.5" r="5.2" fill="#ff0051"/><circle cx="948.5" cy="173.5" r="5.2" fill="#ff0051"/><circle cx="1020.7" cy="153.5" r="5.2" fill="#e50080"/><circle cx="949.9" cy="169.5" r="5.2" fill="#ff0051"/><circle cx="994.9" cy="153.5" r="5.2" fill="#e50080"/><circle cx="938.0" cy="169.5" r="5.2" fill="#f80067"/><circle cx="1032.2" cy="173.5" r="5.2" fill="#e50080"/><circle cx="1071.2" cy="161.5" r="5.2" fill="#764ed0"/><circle cx="1018.6" cy="149.5" r="5.2" fill="#c70098"/><circle cx="976.6" cy="177.5" r="5.2" fill="#ff0051"/><circle cx="974.2" cy="161.5" r="5.2" fill="#ff0051"/><circle cx="962.3" cy="173.5" r="5.2" fill="#e50080"/><circle cx="1003.6" cy="157.5" r="5.2" fill="#c70098"/><circle cx="1038.0" cy="153.5" r="5.2" fill="#f80067"/><circle cx="1012.8" cy="161.5" r="5.2" fill="#aa17a7"/><circle cx="993.8" cy="177.5" r="5.2" fill="#aa17a7"/><circle cx="1034.4" cy="149.5" r="5.2" fill="#c70098"/><circle cx="980.5" cy="153.5" r="5.2" fill="#e50080"/><circle cx="950.2" cy="165.5" r="5.2" fill="#ff0051"/><circle cx="1051.0" cy="165.5" r="5.2" fill="#c70098"/><circle cx="962.1" cy="157.5" r="5.2" fill="#ff0051"/><circle cx="1043.6" cy="157.5" r="5.2" fill="#ff0051"/><circle cx="1009.2" cy="153.5" r="5.2" fill="#c70098"/><circle cx="1009.0" cy="157.5" r="5.2" fill="#ff0051"/><circle cx="1034.6" cy="141.5" r="5.2" fill="#764ed0"/><circle cx="1036.7" cy="157.5" r="5.2" fill="#c70098"/><circle cx="1048.3" cy="173.5" r="5.2" fill="#c70098"/><circle cx="1001.1" cy="157.5" r="5.2" fill="#f80067"/><circle cx="1079.5" cy="173.5" r="5.2" fill="#e50080"/><circle cx="1007.8" cy="165.5" r="5.2" fill="#aa17a7"/><circle cx="1037.3" cy="165.5" r="5.2" fill="#aa17a7"/><circle cx="1073.5" cy="173.5" r="5.2" fill="#c70098"/><circle cx="1036.7" cy="169.5" r="5.2" fill="#e50080"/><circle cx="1040.3" cy="161.5" r="5.2" fill="#e50080"/><circle cx="995.1" cy="161.5" r="5.2" fill="#e50080"/><circle cx="1016.3" cy="157.5" r="5.2" fill="#ff0051"/><circle cx="1073.7" cy="177.5" r="5.2" fill="#f80067"/><circle cx="952.9" cy="177.5" r="5.2" fill="#ff0051"/><circle cx="1044.0" cy="181.5" r="5.2" fill="#c70098"/><circle cx="1061.8" cy="177.5" r="5.2" fill="#c70098"/><circle cx="1034.7" cy="185.5" r="5.2" fill="#c70098"/><circle cx="942.9" cy="177.5" r="5.2" fill="#f80067"/><circle cx="1019.1" cy="177.5" r="5.2" fill="#ff0051"/><circle cx="992.1" cy="173.5" r="5.2" fill="#aa17a7"/><circle cx="1014.2" cy="157.5" r="5.2" fill="#e50080"/><circle cx="1039.4" cy="157.5" r="5.2" fill="#aa17a7"/><circle cx="969.1" cy="165.5" r="5.2" fill="#ff0051"/><circle cx="1012.1" cy="177.5" r="5.2" fill="#f80067"/><circle cx="1035.7" cy="165.5" r="5.2" fill="#ff0051"/><circle cx="1024.4" cy="173.5" r="5.2" fill="#e50080"/><circle cx="967.8" cy="169.5" r="5.2" fill="#f80067"/><circle cx="1070.0" cy="173.5" r="5.2" fill="#e50080"/><circle cx="1045.1" cy="161.5" r="5.2" fill="#e50080"/><circle cx="1015.0" cy="169.5" r="5.2" fill="#f80067"/><circle cx="1011.4" cy="161.5" r="5.2" fill="#ff0051"/><circle cx="955.7" cy="177.5" r="5.2" fill="#ff0051"/><circle cx="1060.1" cy="173.5" r="5.2" fill="#c70098"/><circle cx="953.6" cy="169.5" r="5.2" fill="#f80067"/><circle cx="1022.1" cy="145.5" r="5.2" fill="#764ed0"/><circle cx="991.6" cy="157.5" r="5.2" fill="#c70098"/><circle cx="1023.6" cy="169.5" r="5.2" fill="#c70098"/><circle cx="1039.8" cy="149.5" r="5.2" fill="#aa17a7"/><circle cx="985.7" cy="157.5" r="5.2" fill="#ff0051"/><circle cx="975.0" cy="165.5" r="5.2" fill="#f80067"/><circle cx="1043.6" cy="149.5" r="5.2" fill="#aa17a7"/><circle cx="1062.3" cy="169.5" r="5.2" fill="#aa17a7"/><circle cx="973.5" cy="157.5" r="5.2" fill="#764ed0"/><circle cx="990.3" cy="153.5" r="5.2" fill="#e50080"/><circle cx="1059.1" cy="161.5" r="5.2" fill="#764ed0"/><circle cx="1016.8" cy="153.5" r="5.2" fill="#ff0051"/><circle cx="960.8" cy="161.5" r="5.2" fill="#008bfb"/><circle cx="982.3" cy="177.5" r="5.2" fill="#008bfb"/><circle cx="995.0" cy="153.5" r="5.2" fill="#764ed0"/><circle cx="998.2" cy="157.5" r="5.2" fill="#ff0051"/><circle cx="1055.7" cy="157.5" r="5.2" fill="#008bfb"/><circle cx="1040.0" cy="153.5" r="5.2" fill="#4664e4"/><circle cx="987.0" cy="165.5" r="5.2" fill="#764ed0"/><circle cx="1054.7" cy="169.5" r="5.2" fill="#aa17a7"/><circle cx="1016.7" cy="165.5" r="5.2" fill="#c70098"/><circle cx="1023.3" cy="177.5" r="5.2" fill="#ff0051"/><circle cx="1054.2" cy="149.5" r="5.2" fill="#c70098"/><circle cx="1030.8" cy="165.5" r="5.2" fill="#aa17a7"/><circle cx="942.0" cy="153.5" r="5.2" fill="#e50080"/><circle cx="1062.9" cy="153.5" r="5.2" fill="#e50080"/><circle cx="950.4" cy="149.5" r="5.2" fill="#008bfb"/><circle cx="1033.6" cy="161.5" r="5.2" fill="#e50080"/><circle cx="1046.8" cy="161.5" r="5.2" fill="#764ed0"/><circle cx="1066.0" cy="165.5" r="5.2" fill="#764ed0"/><circle cx="1019.0" cy="157.5" r="5.2" fill="#008bfb"/><circle cx="1075.2" cy="165.5" r="5.2" fill="#764ed0"/><circle cx="1015.6" cy="165.5" r="5.2" fill="#008bfb"/><circle cx="1028.4" cy="157.5" r="5.2" fill="#008bfb"/><circle cx="1058.5" cy="161.5" r="5.2" fill="#008bfb"/><circle cx="611.9" cy="165.5" r="5.2" fill="#ff0051"/><circle cx="727.5" cy="165.5" r="5.2" fill="#008bfb"/><circle cx="733.4" cy="165.5" r="5.2" fill="#008bfb"/><circle cx="781.6" cy="165.5" r="5.2" fill="#008bfb"/><circle cx="841.7" cy="165.5" r="5.2" fill="#008bfb"/><circle cx="834.9" cy="161.5" r="5.2" fill="#ff0051"/><circle cx="836.7" cy="165.5" r="5.2" fill="#ff0051"/><circle cx="865.2" cy="161.5" r="5.2" fill="#008bfb"/><circle cx="870.7" cy="165.5" r="5.2" fill="#008bfb"/><circle cx="886.5" cy="161.5" r="5.2" fill="#008bfb"/><circle cx="892.4" cy="161.5" r="5.2" fill="#c70098"/><circle cx="888.8" cy="165.5" r="5.2" fill="#ff0051"/><circle cx="897.8" cy="165.5" r="5.2" fill="#ff0051"/><circle cx="910.5" cy="161.5" r="5.2" fill="#ff0051"/><circle cx="909.6" cy="165.5" r="5.2" fill="#ff0051"/><circle cx="915.0" cy="169.5" r="5.2" fill="#008bfb"/><circle cx="918.6" cy="165.5" r="5.2" fill="#008bfb"/><circle cx="920.0" cy="165.5" r="5.2" fill="#008bfb"/><circle cx="925.0" cy="165.5" r="5.2" fill="#008bfb"/><circle cx="931.7" cy="161.5" r="5.2" fill="#c70098"/><circle cx="933.4" cy="169.5" r="5.2" fill="#008bfb"/><circle cx="935.0" cy="165.5" r="5.2" fill="#ff0051"/><circle cx="1084.0" cy="161.5" r="5.2" fill="#764ed0"/><circle cx="1084.0" cy="165.5" r="5.2" fill="#764ed0"/><circle cx="1084.0" cy="169.5" r="5.2" fill="#764ed0"/><circle cx="1086.7" cy="161.5" r="5.2" fill="#c70098"/><circle cx="1086.7" cy="165.5" r="5.2" fill="#9233b9"/><circle cx="1086.7" cy="169.5" r="5.2" fill="#c70098"/><circle cx="1088.6" cy="165.5" r="5.2" fill="#9233b9"/><circle cx="1107.2" cy="165.5" r="5.2" fill="#ff0051"/><circle cx="1115.0" cy="161.5" r="5.2" fill="#ff0051"/><circle cx="1112.0" cy="165.5" r="5.2" fill="#ff0051"/><circle cx="1118.0" cy="165.5" r="5.2" fill="#c70098"/><circle cx="1121.8" cy="165.5" r="5.2" fill="#764ed0"/><circle cx="1155.6" cy="165.5" r="5.2" fill="#9233b9"/><circle cx="1166.4" cy="165.5" r="5.2" fill="#f80067"/><circle cx="1173.7" cy="165.5" r="5.2" fill="#f80067"/><circle cx="1045.0" cy="242.8" r="5.2" fill="#7f47c9"/><circle cx="944.3" cy="261.4" r="5.2" fill="#ff0051"/><circle cx="967.9" cy="252.1" r="5.2" fill="#7f47c9"/><circle cx="1020.0" cy="256.8" r="5.2" fill="#764ed0"/><circle cx="1015.8" cy="242.8" r="5.2" fill="#ff0051"/><circle cx="1018.0" cy="238.2" r="5.2" fill="#ff0051"/><circle cx="1042.6" cy="242.8" r="5.2" fill="#764ed0"/><circle cx="947.9" cy="256.8" r="5.2" fill="#aa17a7"/><circle cx="935.4" cy="233.5" r="5.2" fill="#aa17a7"/><circle cx="984.2" cy="252.1" r="5.2" fill="#c70098"/><circle cx="940.4" cy="252.1" r="5.2" fill="#c70098"/><circle cx="1029.4" cy="247.5" r="5.2" fill="#4664e4"/><circle cx="972.7" cy="247.5" r="5.2" fill="#764ed0"/><circle cx="1041.7" cy="233.5" r="5.2" fill="#008bfb"/><circle cx="994.3" cy="219.6" r="5.2" fill="#764ed0"/><circle cx="956.9" cy="242.8" r="5.2" fill="#c70098"/><circle cx="1103.5" cy="238.2" r="5.2" fill="#008bfb"/><circle cx="1022.2" cy="233.5" r="5.2" fill="#7f47c9"/><circle cx="1017.1" cy="261.4" r="5.2" fill="#7f47c9"/><circle cx="1009.3" cy="256.8" r="5.2" fill="#4664e4"/><circle cx="984.1" cy="256.8" r="5.2" fill="#7f47c9"/><circle cx="1142.1" cy="247.5" r="5.2" fill="#008bfb"/><circle cx="954.4" cy="242.8" r="5.2" fill="#e50080"/><circle cx="976.0" cy="247.5" r="5.2" fill="#aa17a7"/><circle cx="1031.4" cy="233.5" r="5.2" fill="#7f47c9"/><circle cx="1012.7" cy="252.1" r="5.2" fill="#7f47c9"/><circle cx="1012.3" cy="233.5" r="5.2" fill="#7f47c9"/><circle cx="939.7" cy="247.5" r="5.2" fill="#aa17a7"/><circle cx="942.9" cy="242.8" r="5.2" fill="#c70098"/><circle cx="961.0" cy="238.2" r="5.2" fill="#4664e4"/><circle cx="960.2" cy="247.5" r="5.2" fill="#9233b9"/><circle cx="1103.5" cy="247.5" r="5.2" fill="#008bfb"/><circle cx="1007.5" cy="238.2" r="5.2" fill="#ff0051"/><circle cx="953.3" cy="219.6" r="5.2" fill="#764ed0"/><circle cx="994.6" cy="224.2" r="5.2" fill="#7f47c9"/><circle cx="990.6" cy="224.2" r="5.2" fill="#7f47c9"/><circle cx="980.3" cy="233.5" r="5.2" fill="#7f47c9"/><circle cx="1006.6" cy="256.8" r="5.2" fill="#4664e4"/><circle cx="967.0" cy="242.8" r="5.2" fill="#764ed0"/><circle cx="939.1" cy="224.2" r="5.2" fill="#7f47c9"/><circle cx="1005.1" cy="242.8" r="5.2" fill="#9233b9"/><circle cx="1025.0" cy="252.1" r="5.2" fill="#4664e4"/><circle cx="1019.0" cy="238.2" r="5.2" fill="#7f47c9"/><circle cx="1036.2" cy="233.5" r="5.2" fill="#4664e4"/><circle cx="1002.6" cy="233.5" r="5.2" fill="#ff0051"/><circle cx="989.3" cy="261.4" r="5.2" fill="#9233b9"/><circle cx="1022.6" cy="261.4" r="5.2" fill="#764ed0"/><circle cx="977.6" cy="252.1" r="5.2" fill="#764ed0"/><circle cx="934.9" cy="252.1" r="5.2" fill="#aa17a7"/><circle cx="948.3" cy="228.9" r="5.2" fill="#764ed0"/><circle cx="1027.6" cy="252.1" r="5.2" fill="#9233b9"/><circle cx="988.1" cy="266.1" r="5.2" fill="#c70098"/><circle cx="946.4" cy="238.2" r="5.2" fill="#764ed0"/><circle cx="962.1" cy="252.1" r="5.2" fill="#764ed0"/><circle cx="940.3" cy="247.5" r="5.2" fill="#c70098"/><circle cx="992.2" cy="261.4" r="5.2" fill="#7f47c9"/><circle cx="951.5" cy="261.4" r="5.2" fill="#aa17a7"/><circle cx="966.5" cy="228.9" r="5.2" fill="#e50080"/><circle cx="1010.5" cy="242.8" r="5.2" fill="#e50080"/><circle cx="990.1" cy="247.5" r="5.2" fill="#c70098"/><circle cx="1010.9" cy="261.4" r="5.2" fill="#ff0051"/><circle cx="988.7" cy="242.8" r="5.2" fill="#e50080"/><circle cx="951.9" cy="252.1" r="5.2" fill="#aa17a7"/><circle cx="986.8" cy="219.6" r="5.2" fill="#764ed0"/><circle cx="972.1" cy="233.5" r="5.2" fill="#764ed0"/><circle cx="1032.3" cy="242.8" r="5.2" fill="#4664e4"/><circle cx="985.6" cy="233.5" r="5.2" fill="#764ed0"/><circle cx="1006.8" cy="242.8" r="5.2" fill="#ff0051"/><circle cx="986.2" cy="238.2" r="5.2" fill="#9233b9"/><circle cx="1035.4" cy="238.2" r="5.2" fill="#764ed0"/><circle cx="941.9" cy="256.8" r="5.2" fill="#ff0051"/><circle cx="1002.9" cy="256.8" r="5.2" fill="#9233b9"/><circle cx="937.3" cy="238.2" r="5.2" fill="#c70098"/><circle cx="1139.6" cy="242.8" r="5.2" fill="#9233b9"/><circle cx="1006.3" cy="224.2" r="5.2" fill="#7f47c9"/><circle cx="1000.5" cy="247.5" r="5.2" fill="#7f47c9"/><circle cx="1025.6" cy="238.2" r="5.2" fill="#4664e4"/><circle cx="966.2" cy="233.5" r="5.2" fill="#aa17a7"/><circle cx="946.6" cy="233.5" r="5.2" fill="#9233b9"/><circle cx="989.5" cy="256.8" r="5.2" fill="#e50080"/><circle cx="998.5" cy="256.8" r="5.2" fill="#008bfb"/><circle cx="1044.5" cy="247.5" r="5.2" fill="#4664e4"/><circle cx="956.0" cy="224.2" r="5.2" fill="#7f47c9"/><circle cx="976.3" cy="242.8" r="5.2" fill="#c70098"/><circle cx="1016.2" cy="242.8" r="5.2" fill="#e50080"/><circle cx="946.0" cy="224.2" r="5.2" fill="#7f47c9"/><circle cx="942.7" cy="228.9" r="5.2" fill="#4664e4"/><circle cx="978.9" cy="238.2" r="5.2" fill="#c70098"/><circle cx="998.3" cy="252.1" r="5.2" fill="#764ed0"/><circle cx="1014.7" cy="256.8" r="5.2" fill="#7f47c9"/><circle cx="1020.2" cy="233.5" r="5.2" fill="#764ed0"/><circle cx="991.5" cy="252.1" r="5.2" fill="#764ed0"/><circle cx="937.8" cy="242.8" r="5.2" fill="#c70098"/><circle cx="934.7" cy="247.5" r="5.2" fill="#c70098"/><circle cx="949.1" cy="242.8" r="5.2" fill="#c70098"/><circle cx="970.9" cy="228.9" r="5.2" fill="#764ed0"/><circle cx="1009.8" cy="224.2" r="5.2" fill="#7f47c9"/><circle cx="961.4" cy="233.5" r="5.2" fill="#4664e4"/><circle cx="1016.2" cy="247.5" r="5.2" fill="#e50080"/><circle cx="940.4" cy="233.5" r="5.2" fill="#7f47c9"/><circle cx="1045.4" cy="238.2" r="5.2" fill="#4664e4"/><circle cx="1022.3" cy="247.5" r="5.2" fill="#9233b9"/><circle cx="954.0" cy="224.2" r="5.2" fill="#4664e4"/><circle cx="971.5" cy="242.8" r="5.2" fill="#9233b9"/><circle cx="970.6" cy="252.1" r="5.2" fill="#9233b9"/><circle cx="1009.1" cy="252.1" r="5.2" fill="#7f47c9"/><circle cx="1015.1" cy="224.2" r="5.2" fill="#7f47c9"/><circle cx="946.2" cy="252.1" r="5.2" fill="#c70098"/><circle cx="989.8" cy="228.9" r="5.2" fill="#764ed0"/><circle cx="982.0" cy="228.9" r="5.2" fill="#4664e4"/><circle cx="969.4" cy="247.5" r="5.2" fill="#9233b9"/><circle cx="1027.5" cy="242.8" r="5.2" fill="#9233b9"/><circle cx="1025.5" cy="256.8" r="5.2" fill="#7f47c9"/><circle cx="1027.5" cy="261.4" r="5.2" fill="#9233b9"/><circle cx="983.9" cy="242.8" r="5.2" fill="#aa17a7"/><circle cx="942.7" cy="242.8" r="5.2" fill="#e50080"/><circle cx="987.3" cy="252.1" r="5.2" fill="#4664e4"/><circle cx="978.6" cy="238.2" r="5.2" fill="#9233b9"/><circle cx="1005.2" cy="238.2" r="5.2" fill="#7f47c9"/><circle cx="978.5" cy="228.9" r="5.2" fill="#764ed0"/><circle cx="1013.3" cy="228.9" r="5.2" fill="#9233b9"/><circle cx="940.0" cy="228.9" r="5.2" fill="#7f47c9"/><circle cx="997.6" cy="233.5" r="5.2" fill="#7f47c9"/><circle cx="995.8" cy="256.8" r="5.2" fill="#9233b9"/><circle cx="995.8" cy="242.8" r="5.2" fill="#7f47c9"/><circle cx="1039.4" cy="242.8" r="5.2" fill="#4664e4"/><circle cx="990.9" cy="233.5" r="5.2" fill="#4664e4"/><circle cx="1022.5" cy="252.1" r="5.2" fill="#764ed0"/><circle cx="1012.9" cy="238.2" r="5.2" fill="#ff0051"/><circle cx="975.3" cy="224.2" r="5.2" fill="#9233b9"/><circle cx="955.1" cy="228.9" r="5.2" fill="#4664e4"/><circle cx="954.6" cy="256.8" r="5.2" fill="#e50080"/><circle cx="1142.3" cy="233.5" r="5.2" fill="#008bfb"/><circle cx="961.5" cy="238.2" r="5.2" fill="#764ed0"/><circle cx="1105.3" cy="242.8" r="5.2" fill="#008bfb"/><circle cx="985.7" cy="224.2" r="5.2" fill="#9233b9"/><circle cx="1028.8" cy="247.5" r="5.2" fill="#4664e4"/><circle cx="977.2" cy="233.5" r="5.2" fill="#9233b9"/><circle cx="970.8" cy="256.8" r="5.2" fill="#ff0051"/><circle cx="944.4" cy="256.8" r="5.2" fill="#c70098"/><circle cx="961.5" cy="247.5" r="5.2" fill="#7f47c9"/><circle cx="1007.9" cy="252.1" r="5.2" fill="#764ed0"/><circle cx="974.6" cy="252.1" r="5.2" fill="#7f47c9"/><circle cx="957.5" cy="238.2" r="5.2" fill="#9233b9"/><circle cx="936.7" cy="252.1" r="5.2" fill="#e50080"/><circle cx="1039.7" cy="247.5" r="5.2" fill="#4664e4"/><circle cx="1012.3" cy="247.5" r="5.2" fill="#9233b9"/><circle cx="980.5" cy="242.8" r="5.2" fill="#9233b9"/><circle cx="985.8" cy="238.2" r="5.2" fill="#764ed0"/><circle cx="983.1" cy="247.5" r="5.2" fill="#764ed0"/><circle cx="958.7" cy="242.8" r="5.2" fill="#4664e4"/><circle cx="1020.3" cy="219.6" r="5.2" fill="#9233b9"/><circle cx="982.0" cy="252.1" r="5.2" fill="#764ed0"/><circle cx="972.0" cy="228.9" r="5.2" fill="#7f47c9"/><circle cx="940.2" cy="256.8" r="5.2" fill="#e50080"/><circle cx="1018.5" cy="224.2" r="5.2" fill="#764ed0"/><circle cx="999.8" cy="238.2" r="5.2" fill="#4664e4"/><circle cx="995.8" cy="228.9" r="5.2" fill="#7f47c9"/><circle cx="1005.5" cy="233.5" r="5.2" fill="#f80067"/><circle cx="1032.4" cy="252.1" r="5.2" fill="#7f47c9"/><circle cx="953.1" cy="238.2" r="5.2" fill="#7f47c9"/><circle cx="1104.3" cy="233.5" r="5.2" fill="#008bfb"/><circle cx="989.2" cy="219.6" r="5.2" fill="#7f47c9"/><circle cx="1022.2" cy="261.4" r="5.2" fill="#4664e4"/><circle cx="944.3" cy="238.2" r="5.2" fill="#c70098"/><circle cx="1041.8" cy="238.2" r="5.2" fill="#4664e4"/><circle cx="1014.3" cy="261.4" r="5.2" fill="#7f47c9"/><circle cx="988.2" cy="247.5" r="5.2" fill="#9233b9"/><circle cx="975.5" cy="242.8" r="5.2" fill="#764ed0"/><circle cx="1036.3" cy="238.2" r="5.2" fill="#7f47c9"/><circle cx="980.0" cy="247.5" r="5.2" fill="#764ed0"/><circle cx="1021.1" cy="247.5" r="5.2" fill="#f80067"/><circle cx="982.9" cy="261.4" r="5.2" fill="#9233b9"/><circle cx="987.5" cy="233.5" r="5.2" fill="#9233b9"/><circle cx="954.5" cy="256.8" r="5.2" fill="#c70098"/><circle cx="1019.8" cy="228.9" r="5.2" fill="#7f47c9"/><circle cx="957.4" cy="252.1" r="5.2" fill="#c70098"/><circle cx="1012.1" cy="238.2" r="5.2" fill="#ff0051"/><circle cx="998.0" cy="219.6" r="5.2" fill="#4664e4"/><circle cx="934.3" cy="238.2" r="5.2" fill="#e50080"/><circle cx="995.3" cy="252.1" r="5.2" fill="#9233b9"/><circle cx="942.0" cy="238.2" r="5.2" fill="#e50080"/><circle cx="955.6" cy="228.9" r="5.2" fill="#7f47c9"/><circle cx="1016.2" cy="252.1" r="5.2" fill="#764ed0"/><circle cx="1036.5" cy="242.8" r="5.2" fill="#4664e4"/><circle cx="985.9" cy="224.2" r="5.2" fill="#764ed0"/><circle cx="1030.2" cy="238.2" r="5.2" fill="#4664e4"/><circle cx="1010.4" cy="228.9" r="5.2" fill="#764ed0"/><circle cx="1037.3" cy="247.5" r="5.2" fill="#9233b9"/><circle cx="987.2" cy="228.9" r="5.2" fill="#7f47c9"/><circle cx="992.1" cy="233.5" r="5.2" fill="#764ed0"/><circle cx="1006.5" cy="247.5" r="5.2" fill="#f80067"/><circle cx="980.9" cy="228.9" r="5.2" fill="#9233b9"/><circle cx="998.2" cy="224.2" r="5.2" fill="#9233b9"/><circle cx="1015.4" cy="233.5" r="5.2" fill="#764ed0"/><circle cx="1029.3" cy="256.8" r="5.2" fill="#f80067"/><circle cx="934.0" cy="242.8" r="5.2" fill="#764ed0"/><circle cx="990.5" cy="256.8" r="5.2" fill="#aa17a7"/><circle cx="945.0" cy="233.5" r="5.2" fill="#7f47c9"/><circle cx="944.8" cy="252.1" r="5.2" fill="#e50080"/><circle cx="952.9" cy="266.1" r="5.2" fill="#c70098"/><circle cx="980.8" cy="224.2" r="5.2" fill="#7f47c9"/><circle cx="1039.7" cy="252.1" r="5.2" fill="#008bfb"/><circle cx="973.5" cy="238.2" r="5.2" fill="#9233b9"/><circle cx="956.0" cy="247.5" r="5.2" fill="#aa17a7"/><circle cx="1003.0" cy="228.9" r="5.2" fill="#e50080"/><circle cx="953.1" cy="233.5" r="5.2" fill="#7f47c9"/><circle cx="996.0" cy="261.4" r="5.2" fill="#008bfb"/><circle cx="1035.6" cy="247.5" r="5.2" fill="#9233b9"/><circle cx="945.2" cy="247.5" r="5.2" fill="#aa17a7"/><circle cx="949.1" cy="261.4" r="5.2" fill="#c70098"/><circle cx="992.2" cy="238.2" r="5.2" fill="#9233b9"/><circle cx="944.7" cy="228.9" r="5.2" fill="#764ed0"/><circle cx="1022.2" cy="242.8" r="5.2" fill="#4664e4"/><circle cx="963.2" cy="233.5" r="5.2" fill="#4664e4"/><circle cx="997.6" cy="242.8" r="5.2" fill="#764ed0"/><circle cx="1029.6" cy="238.2" r="5.2" fill="#4664e4"/><circle cx="1039.7" cy="252.1" r="5.2" fill="#4664e4"/><circle cx="1039.2" cy="233.5" r="5.2" fill="#4664e4"/><circle cx="1016.0" cy="228.9" r="5.2" fill="#764ed0"/><circle cx="992.3" cy="261.4" r="5.2" fill="#008bfb"/><circle cx="982.1" cy="256.8" r="5.2" fill="#9233b9"/><circle cx="1021.6" cy="242.8" r="5.2" fill="#e50080"/><circle cx="1005.5" cy="261.4" r="5.2" fill="#7f47c9"/><circle cx="954.4" cy="247.5" r="5.2" fill="#e50080"/><circle cx="1008.8" cy="233.5" r="5.2" fill="#e50080"/><circle cx="961.8" cy="242.8" r="5.2" fill="#7f47c9"/><circle cx="956.8" cy="233.5" r="5.2" fill="#9233b9"/><circle cx="992.1" cy="247.5" r="5.2" fill="#9233b9"/><circle cx="1021.6" cy="224.2" r="5.2" fill="#764ed0"/><circle cx="1003.2" cy="247.5" r="5.2" fill="#764ed0"/><circle cx="1006.7" cy="228.9" r="5.2" fill="#764ed0"/><circle cx="1002.6" cy="252.1" r="5.2" fill="#764ed0"/><circle cx="992.1" cy="238.2" r="5.2" fill="#4664e4"/><circle cx="1043.4" cy="233.5" r="5.2" fill="#008bfb"/><circle cx="1010.3" cy="247.5" r="5.2" fill="#ff0051"/><circle cx="1028.3" cy="233.5" r="5.2" fill="#7f47c9"/><circle cx="972.1" cy="224.2" r="5.2" fill="#4664e4"/><circle cx="949.8" cy="224.2" r="5.2" fill="#4664e4"/><circle cx="968.6" cy="238.2" r="5.2" fill="#764ed0"/><circle cx="1018.9" cy="256.8" r="5.2" fill="#4664e4"/><circle cx="1023.5" cy="228.9" r="5.2" fill="#7f47c9"/><circle cx="946.3" cy="247.5" r="5.2" fill="#c70098"/><circle cx="970.8" cy="233.5" r="5.2" fill="#764ed0"/><circle cx="999.6" cy="261.4" r="5.2" fill="#008bfb"/><circle cx="971.1" cy="238.2" r="5.2" fill="#764ed0"/><circle cx="939.3" cy="233.5" r="5.2" fill="#4664e4"/><circle cx="1139.8" cy="238.2" r="5.2" fill="#008bfb"/><circle cx="1036.5" cy="252.1" r="5.2" fill="#ff0051"/><circle cx="990.2" cy="242.8" r="5.2" fill="#9233b9"/><circle cx="966.9" cy="247.5" r="5.2" fill="#7f47c9"/><circle cx="1000.9" cy="228.9" r="5.2" fill="#764ed0"/><circle cx="966.9" cy="256.8" r="5.2" fill="#ff0051"/><circle cx="996.5" cy="238.2" r="5.2" fill="#4664e4"/><circle cx="978.3" cy="256.8" r="5.2" fill="#7f47c9"/><circle cx="1029.5" cy="256.8" r="5.2" fill="#ff0051"/><circle cx="820.5" cy="242.8" r="5.2" fill="#c70098"/><circle cx="827.1" cy="242.8" r="5.2" fill="#008bfb"/><circle cx="837.8" cy="242.8" r="5.2" fill="#c70098"/><circle cx="869.9" cy="242.8" r="5.2" fill="#008bfb"/><circle cx="876.2" cy="242.8" r="5.2" fill="#764ed0"/><circle cx="881.9" cy="242.8" r="5.2" fill="#c70098"/><circle cx="886.8" cy="242.8" r="5.2" fill="#c70098"/><circle cx="902.3" cy="242.8" r="5.2" fill="#008bfb"/><circle cx="908.0" cy="242.8" r="5.2" fill="#c70098"/><circle cx="911.5" cy="238.2" r="5.2" fill="#c70098"/><circle cx="911.5" cy="242.8" r="5.2" fill="#c70098"/><circle cx="915.0" cy="238.2" r="5.2" fill="#c70098"/><circle cx="915.0" cy="242.8" r="5.2" fill="#c70098"/><circle cx="919.0" cy="238.2" r="5.2" fill="#c70098"/><circle cx="919.0" cy="242.8" r="5.2" fill="#c70098"/><circle cx="919.0" cy="247.5" r="5.2" fill="#c70098"/><circle cx="924.2" cy="238.2" r="5.2" fill="#c70098"/><circle cx="924.2" cy="242.8" r="5.2" fill="#764ed0"/><circle cx="924.2" cy="247.5" r="5.2" fill="#c70098"/><circle cx="928.0" cy="238.2" r="5.2" fill="#764ed0"/><circle cx="928.0" cy="242.8" r="5.2" fill="#c70098"/><circle cx="928.0" cy="247.5" r="5.2" fill="#c70098"/><circle cx="931.0" cy="238.2" r="5.2" fill="#c70098"/><circle cx="931.0" cy="242.8" r="5.2" fill="#9233b9"/><circle cx="931.0" cy="247.5" r="5.2" fill="#c70098"/><circle cx="1049.3" cy="238.2" r="5.2" fill="#764ed0"/><circle cx="1049.3" cy="242.8" r="5.2" fill="#764ed0"/><circle cx="1049.3" cy="247.5" r="5.2" fill="#764ed0"/><circle cx="1053.0" cy="238.2" r="5.2" fill="#764ed0"/><circle cx="1053.0" cy="242.8" r="5.2" fill="#764ed0"/><circle cx="1059.8" cy="238.2" r="5.2" fill="#008bfb"/><circle cx="1059.8" cy="242.8" r="5.2" fill="#008bfb"/><circle cx="1065.0" cy="247.5" r="5.2" fill="#c70098"/><circle cx="1063.0" cy="238.2" r="5.2" fill="#008bfb"/><circle cx="1063.0" cy="242.8" r="5.2" fill="#008bfb"/><circle cx="1066.3" cy="247.5" r="5.2" fill="#c70098"/><circle cx="1070.4" cy="238.2" r="5.2" fill="#764ed0"/><circle cx="1070.4" cy="242.8" r="5.2" fill="#008bfb"/><circle cx="1075.7" cy="238.2" r="5.2" fill="#008bfb"/><circle cx="1075.7" cy="242.8" r="5.2" fill="#008bfb"/><circle cx="1079.7" cy="242.8" r="5.2" fill="#008bfb"/><circle cx="1095.2" cy="238.2" r="5.2" fill="#008bfb"/><circle cx="1095.2" cy="242.8" r="5.2" fill="#764ed0"/><circle cx="1100.0" cy="238.2" r="5.2" fill="#008bfb"/><circle cx="1100.0" cy="242.8" r="5.2" fill="#008bfb"/><circle cx="1126.0" cy="242.8" r="5.2" fill="#008bfb"/><circle cx="1146.0" cy="238.2" r="5.2" fill="#008bfb"/><circle cx="1146.0" cy="242.8" r="5.2" fill="#008bfb"/><circle cx="1152.2" cy="242.8" r="5.2" fill="#008bfb"/><circle cx="1170.9" cy="242.8" r="5.2" fill="#008bfb"/><circle cx="1177.6" cy="242.8" r="5.2" fill="#008bfb"/><circle cx="1207.8" cy="242.8" r="5.2" fill="#4664e4"/><circle cx="1240.0" cy="242.8" r="5.2" fill="#008bfb"/><circle cx="973.9" cy="320.3" r="5.2" fill="#f80067"/><circle cx="1042.3" cy="316.8" r="5.2" fill="#ff0051"/><circle cx="962.6" cy="320.3" r="5.2" fill="#c70098"/><circle cx="937.3" cy="323.8" r="5.2" fill="#aa17a7"/><circle cx="1001.5" cy="309.8" r="5.2" fill="#9233b9"/><circle cx="966.3" cy="309.8" r="5.2" fill="#e50080"/><circle cx="1031.1" cy="327.3" r="5.2" fill="#aa17a7"/><circle cx="906.9" cy="316.8" r="5.2" fill="#e50080"/><circle cx="1006.8" cy="323.8" r="5.2" fill="#e50080"/><circle cx="949.8" cy="316.8" r="5.2" fill="#9233b9"/><circle cx="1025.9" cy="309.8" r="5.2" fill="#764ed0"/><circle cx="970.0" cy="327.3" r="5.2" fill="#c70098"/><circle cx="934.9" cy="323.8" r="5.2" fill="#c70098"/><circle cx="1004.7" cy="302.9" r="5.2" fill="#aa17a7"/><circle cx="962.0" cy="323.8" r="5.2" fill="#e50080"/><circle cx="1017.4" cy="306.3" r="5.2" fill="#ff0051"/><circle cx="988.8" cy="306.3" r="5.2" fill="#e50080"/><circle cx="1002.1" cy="330.8" r="5.2" fill="#c70098"/><circle cx="981.2" cy="309.8" r="5.2" fill="#c70098"/><circle cx="963.8" cy="323.8" r="5.2" fill="#c70098"/><circle cx="1013.8" cy="330.8" r="5.2" fill="#e50080"/><circle cx="1006.6" cy="320.3" r="5.2" fill="#aa17a7"/><circle cx="998.9" cy="313.3" r="5.2" fill="#e50080"/><circle cx="953.6" cy="320.3" r="5.2" fill="#9233b9"/><circle cx="947.2" cy="320.3" r="5.2" fill="#9233b9"/><circle cx="990.2" cy="320.3" r="5.2" fill="#aa17a7"/><circle cx="894.3" cy="316.8" r="5.2" fill="#c70098"/><circle cx="1033.7" cy="313.3" r="5.2" fill="#ff0051"/><circle cx="985.5" cy="330.8" r="5.2" fill="#e50080"/><circle cx="1007.9" cy="309.8" r="5.2" fill="#aa17a7"/><circle cx="980.8" cy="327.3" r="5.2" fill="#c70098"/><circle cx="989.7" cy="309.8" r="5.2" fill="#e50080"/><circle cx="985.2" cy="327.3" r="5.2" fill="#aa17a7"/><circle cx="978.5" cy="309.8" r="5.2" fill="#e50080"/><circle cx="1010.4" cy="313.3" r="5.2" fill="#e50080"/><circle cx="1022.8" cy="306.3" r="5.2" fill="#ff0051"/><circle cx="994.0" cy="323.8" r="5.2" fill="#aa17a7"/><circle cx="932.9" cy="320.3" r="5.2" fill="#c70098"/><circle cx="1018.3" cy="320.3" r="5.2" fill="#e50080"/><circle cx="1032.6" cy="316.8" r="5.2" fill="#ff0051"/><circle cx="939.5" cy="316.8" r="5.2" fill="#c70098"/><circle cx="1003.4" cy="323.8" r="5.2" fill="#c70098"/><circle cx="975.1" cy="309.8" r="5.2" fill="#e50080"/><circle cx="1010.5" cy="330.8" r="5.2" fill="#aa17a7"/><circle cx="944.4" cy="327.3" r="5.2" fill="#c70098"/><circle cx="996.0" cy="302.9" r="5.2" fill="#9233b9"/><circle cx="993.2" cy="313.3" r="5.2" fill="#c70098"/><circle cx="1024.7" cy="327.3" r="5.2" fill="#e50080"/><circle cx="947.6" cy="309.8" r="5.2" fill="#e50080"/><circle cx="1011.6" cy="323.8" r="5.2" fill="#e50080"/><circle cx="980.0" cy="320.3" r="5.2" fill="#c70098"/><circle cx="993.6" cy="306.3" r="5.2" fill="#c70098"/><circle cx="953.1" cy="316.8" r="5.2" fill="#e50080"/><circle cx="973.3" cy="327.3" r="5.2" fill="#e50080"/><circle cx="979.0" cy="327.3" r="5.2" fill="#c70098"/><circle cx="993.9" cy="320.3" r="5.2" fill="#e50080"/><circle cx="969.5" cy="330.8" r="5.2" fill="#c70098"/><circle cx="956.8" cy="309.8" r="5.2" fill="#c70098"/><circle cx="988.6" cy="330.8" r="5.2" fill="#c70098"/><circle cx="986.2" cy="309.8" r="5.2" fill="#c70098"/><circle cx="906.3" cy="320.3" r="5.2" fill="#e50080"/><circle cx="962.7" cy="327.3" r="5.2" fill="#aa17a7"/><circle cx="947.2" cy="309.8" r="5.2" fill="#e50080"/><circle cx="1034.3" cy="327.3" r="5.2" fill="#e50080"/><circle cx="995.4" cy="309.8" r="5.2" fill="#aa17a7"/><circle cx="999.4" cy="320.3" r="5.2" fill="#e50080"/><circle cx="1027.0" cy="323.8" r="5.2" fill="#aa17a7"/><circle cx="996.3" cy="316.8" r="5.2" fill="#9233b9"/><circle cx="987.9" cy="341.2" r="5.2" fill="#764ed0"/><circle cx="975.8" cy="323.8" r="5.2" fill="#c70098"/><circle cx="934.5" cy="313.3" r="5.2" fill="#e50080"/><circle cx="998.3" cy="330.8" r="5.2" fill="#e50080"/><circle cx="941.6" cy="316.8" r="5.2" fill="#c70098"/><circle cx="1004.1" cy="313.3" r="5.2" fill="#aa17a7"/><circle cx="997.7" cy="302.9" r="5.2" fill="#aa17a7"/><circle cx="1018.8" cy="316.8" r="5.2" fill="#c70098"/><circle cx="964.1" cy="320.3" r="5.2" fill="#f80067"/><circle cx="970.0" cy="313.3" r="5.2" fill="#c70098"/><circle cx="1014.4" cy="313.3" r="5.2" fill="#e50080"/><circle cx="1026.8" cy="316.8" r="5.2" fill="#c70098"/><circle cx="1022.8" cy="313.3" r="5.2" fill="#c70098"/><circle cx="894.5" cy="313.3" r="5.2" fill="#c70098"/><circle cx="958.6" cy="313.3" r="5.2" fill="#e50080"/><circle cx="1003.7" cy="302.9" r="5.2" fill="#e50080"/><circle cx="1002.6" cy="316.8" r="5.2" fill="#e50080"/><circle cx="941.9" cy="323.8" r="5.2" fill="#c70098"/><circle cx="954.3" cy="309.8" r="5.2" fill="#e50080"/><circle cx="989.7" cy="313.3" r="5.2" fill="#c70098"/><circle cx="940.1" cy="320.3" r="5.2" fill="#9233b9"/><circle cx="994.4" cy="316.8" r="5.2" fill="#9233b9"/><circle cx="909.9" cy="323.8" r="5.2" fill="#e50080"/><circle cx="983.3" cy="306.3" r="5.2" fill="#e50080"/><circle cx="969.9" cy="309.8" r="5.2" fill="#764ed0"/><circle cx="983.0" cy="313.3" r="5.2" fill="#e50080"/><circle cx="1007.5" cy="327.3" r="5.2" fill="#aa17a7"/><circle cx="945.8" cy="320.3" r="5.2" fill="#9233b9"/><circle cx="945.6" cy="323.8" r="5.2" fill="#e50080"/><circle cx="980.3" cy="316.8" r="5.2" fill="#aa17a7"/><circle cx="1013.1" cy="327.3" r="5.2" fill="#c70098"/><circle cx="990.0" cy="337.8" r="5.2" fill="#9233b9"/><circle cx="960.3" cy="313.3" r="5.2" fill="#e50080"/><circle cx="960.0" cy="309.8" r="5.2" fill="#764ed0"/><circle cx="1035.5" cy="313.3" r="5.2" fill="#ff0051"/><circle cx="1044.7" cy="313.3" r="5.2" fill="#f80067"/><circle cx="1001.4" cy="306.3" r="5.2" fill="#c70098"/><circle cx="1006.1" cy="306.3" r="5.2" fill="#9233b9"/><circle cx="992.4" cy="334.3" r="5.2" fill="#e50080"/><circle cx="1003.1" cy="313.3" r="5.2" fill="#c70098"/><circle cx="989.6" cy="334.3" r="5.2" fill="#e50080"/><circle cx="1042.9" cy="323.8" r="5.2" fill="#c70098"/><circle cx="986.1" cy="320.3" r="5.2" fill="#e50080"/><circle cx="949.2" cy="323.8" r="5.2" fill="#c70098"/><circle cx="972.1" cy="330.8" r="5.2" fill="#e50080"/><circle cx="1035.1" cy="320.3" r="5.2" fill="#aa17a7"/><circle cx="1004.6" cy="309.8" r="5.2" fill="#9233b9"/><circle cx="965.9" cy="313.3" r="5.2" fill="#c70098"/><circle cx="1010.3" cy="306.3" r="5.2" fill="#e50080"/><circle cx="1004.6" cy="316.8" r="5.2" fill="#aa17a7"/><circle cx="933.3" cy="316.8" r="5.2" fill="#aa17a7"/><circle cx="944.9" cy="313.3" r="5.2" fill="#c70098"/><circle cx="944.0" cy="313.3" r="5.2" fill="#aa17a7"/><circle cx="953.7" cy="323.8" r="5.2" fill="#e50080"/><circle cx="975.9" cy="316.8" r="5.2" fill="#c70098"/><circle cx="987.7" cy="337.8" r="5.2" fill="#c70098"/><circle cx="1038.1" cy="313.3" r="5.2" fill="#f80067"/><circle cx="992.2" cy="334.3" r="5.2" fill="#e50080"/><circle cx="988.7" cy="320.3" r="5.2" fill="#aa17a7"/><circle cx="909.4" cy="313.3" r="5.2" fill="#c70098"/><circle cx="940.2" cy="313.3" r="5.2" fill="#aa17a7"/><circle cx="1033.3" cy="320.3" r="5.2" fill="#e50080"/><circle cx="1014.4" cy="316.8" r="5.2" fill="#aa17a7"/><circle cx="1017.0" cy="313.3" r="5.2" fill="#e50080"/><circle cx="1020.9" cy="320.3" r="5.2" fill="#c70098"/><circle cx="945.5" cy="316.8" r="5.2" fill="#e50080"/><circle cx="989.0" cy="302.9" r="5.2" fill="#ff0051"/><circle cx="1009.6" cy="323.8" r="5.2" fill="#e50080"/><circle cx="985.5" cy="316.8" r="5.2" fill="#f80067"/><circle cx="1014.2" cy="320.3" r="5.2" fill="#e50080"/><circle cx="991.8" cy="323.8" r="5.2" fill="#c70098"/><circle cx="963.8" cy="327.3" r="5.2" fill="#e50080"/><circle cx="1023.3" cy="313.3" r="5.2" fill="#c70098"/><circle cx="1007.7" cy="316.8" r="5.2" fill="#9233b9"/><circle cx="1020.1" cy="316.8" r="5.2" fill="#c70098"/><circle cx="972.3" cy="323.8" r="5.2" fill="#aa17a7"/><circle cx="989.4" cy="330.8" r="5.2" fill="#aa17a7"/><circle cx="980.2" cy="330.8" r="5.2" fill="#aa17a7"/><circle cx="991.7" cy="316.8" r="5.2" fill="#aa17a7"/><circle cx="957.9" cy="323.8" r="5.2" fill="#e50080"/><circle cx="1008.9" cy="327.3" r="5.2" fill="#c70098"/><circle cx="1032.9" cy="323.8" r="5.2" fill="#c70098"/><circle cx="994.2" cy="330.8" r="5.2" fill="#aa17a7"/><circle cx="894.7" cy="323.8" r="5.2" fill="#c70098"/><circle cx="958.8" cy="316.8" r="5.2" fill="#e50080"/><circle cx="992.9" cy="302.9" r="5.2" fill="#e50080"/><circle cx="984.0" cy="323.8" r="5.2" fill="#e50080"/><circle cx="965.3" cy="316.8" r="5.2" fill="#e50080"/><circle cx="1038.9" cy="320.3" r="5.2" fill="#c70098"/><circle cx="949.4" cy="327.3" r="5.2" fill="#e50080"/><circle cx="894.1" cy="320.3" r="5.2" fill="#e50080"/><circle cx="971.1" cy="320.3" r="5.2" fill="#f80067"/><circle cx="999.7" cy="309.8" r="5.2" fill="#aa17a7"/><circle cx="972.4" cy="316.8" r="5.2" fill="#aa17a7"/><circle cx="991.5" cy="327.3" r="5.2" fill="#c70098"/><circle cx="988.4" cy="313.3" r="5.2" fill="#c70098"/><circle cx="936.6" cy="327.3" r="5.2" fill="#c70098"/><circle cx="988.5" cy="327.3" r="5.2" fill="#764ed0"/><circle cx="988.6" cy="309.8" r="5.2" fill="#e50080"/><circle cx="986.6" cy="299.4" r="5.2" fill="#9233b9"/><circle cx="989.6" cy="306.3" r="5.2" fill="#c70098"/><circle cx="1020.4" cy="309.8" r="5.2" fill="#ff0051"/><circle cx="988.1" cy="316.8" r="5.2" fill="#aa17a7"/><circle cx="944.4" cy="330.8" r="5.2" fill="#c70098"/><circle cx="948.3" cy="313.3" r="5.2" fill="#9233b9"/><circle cx="1011.7" cy="309.8" r="5.2" fill="#9233b9"/><circle cx="999.3" cy="323.8" r="5.2" fill="#e50080"/><circle cx="1034.7" cy="323.8" r="5.2" fill="#9233b9"/><circle cx="978.6" cy="313.3" r="5.2" fill="#e50080"/><circle cx="969.9" cy="306.3" r="5.2" fill="#f80067"/><circle cx="1023.5" cy="320.3" r="5.2" fill="#e50080"/><circle cx="1038.0" cy="323.8" r="5.2" fill="#aa17a7"/><circle cx="1011.2" cy="320.3" r="5.2" fill="#c70098"/><circle cx="1039.9" cy="327.3" r="5.2" fill="#c70098"/><circle cx="933.5" cy="327.3" r="5.2" fill="#e50080"/><circle cx="976.5" cy="316.8" r="5.2" fill="#c70098"/><circle cx="945.4" cy="327.3" r="5.2" fill="#e50080"/><circle cx="1018.4" cy="309.8" r="5.2" fill="#9233b9"/><circle cx="1000.0" cy="327.3" r="5.2" fill="#e50080"/><circle cx="1017.3" cy="334.3" r="5.2" fill="#008bfb"/><circle cx="1019.2" cy="337.8" r="5.2" fill="#9233b9"/><circle cx="1020.2" cy="299.4" r="5.2" fill="#ff0051"/><circle cx="989.1" cy="295.9" r="5.2" fill="#764ed0"/><circle cx="977.6" cy="323.8" r="5.2" fill="#c70098"/><circle cx="1015.3" cy="327.3" r="5.2" fill="#008bfb"/><circle cx="1002.0" cy="320.3" r="5.2" fill="#9233b9"/><circle cx="1036.8" cy="316.8" r="5.2" fill="#e50080"/><circle cx="952.5" cy="313.3" r="5.2" fill="#c70098"/><circle cx="961.8" cy="316.8" r="5.2" fill="#e50080"/><circle cx="1040.2" cy="316.8" r="5.2" fill="#ff0051"/><circle cx="1046.0" cy="320.3" r="5.2" fill="#008bfb"/><circle cx="974.9" cy="313.3" r="5.2" fill="#aa17a7"/><circle cx="983.9" cy="323.8" r="5.2" fill="#c70098"/><circle cx="952.3" cy="327.3" r="5.2" fill="#c70098"/><circle cx="983.5" cy="306.3" r="5.2" fill="#e50080"/><circle cx="949.9" cy="330.8" r="5.2" fill="#9233b9"/><circle cx="1007.4" cy="330.8" r="5.2" fill="#e50080"/><circle cx="995.2" cy="327.3" r="5.2" fill="#9233b9"/><circle cx="997.8" cy="306.3" r="5.2" fill="#9233b9"/><circle cx="976.4" cy="320.3" r="5.2" fill="#e50080"/><circle cx="996.2" cy="327.3" r="5.2" fill="#9233b9"/><circle cx="1018.6" cy="323.8" r="5.2" fill="#c70098"/><circle cx="944.2" cy="320.3" r="5.2" fill="#9233b9"/><circle cx="987.8" cy="323.8" r="5.2" fill="#e50080"/><circle cx="980.1" cy="330.8" r="5.2" fill="#e50080"/><circle cx="956.2" cy="320.3" r="5.2" fill="#c70098"/><circle cx="984.3" cy="313.3" r="5.2" fill="#c70098"/><circle cx="1024.1" cy="330.8" r="5.2" fill="#e50080"/><circle cx="992.2" cy="299.4" r="5.2" fill="#9233b9"/><circle cx="1029.0" cy="320.3" r="5.2" fill="#008bfb"/><circle cx="1043.7" cy="320.3" r="5.2" fill="#e50080"/><circle cx="985.0" cy="334.3" r="5.2" fill="#c70098"/><circle cx="743.3" cy="320.3" r="5.2" fill="#c70098"/><circle cx="792.7" cy="320.3" r="5.2" fill="#c70098"/><circle cx="813.9" cy="320.3" r="5.2" fill="#c70098"/><circle cx="820.9" cy="320.3" r="5.2" fill="#c70098"/><circle cx="853.4" cy="316.8" r="5.2" fill="#c70098"/><circle cx="855.5" cy="320.3" r="5.2" fill="#c70098"/><circle cx="871.0" cy="320.3" r="5.2" fill="#c70098"/><circle cx="875.3" cy="316.8" r="5.2" fill="#f80067"/><circle cx="875.3" cy="320.3" r="5.2" fill="#c70098"/><circle cx="880.0" cy="320.3" r="5.2" fill="#c70098"/><circle cx="884.5" cy="320.3" r="5.2" fill="#f80067"/><circle cx="888.0" cy="320.3" r="5.2" fill="#c70098"/><circle cx="889.5" cy="316.8" r="5.2" fill="#c70098"/><circle cx="889.5" cy="320.3" r="5.2" fill="#c70098"/><circle cx="897.0" cy="316.8" r="5.2" fill="#e50080"/><circle cx="897.0" cy="320.3" r="5.2" fill="#c70098"/><circle cx="897.0" cy="323.8" r="5.2" fill="#c70098"/><circle cx="901.0" cy="316.8" r="5.2" fill="#c70098"/><circle cx="901.0" cy="320.3" r="5.2" fill="#c70098"/><circle cx="904.5" cy="316.8" r="5.2" fill="#c70098"/><circle cx="904.5" cy="320.3" r="5.2" fill="#c70098"/><circle cx="904.5" cy="323.8" r="5.2" fill="#c70098"/><circle cx="912.0" cy="316.8" r="5.2" fill="#c70098"/><circle cx="912.0" cy="320.3" r="5.2" fill="#c70098"/><circle cx="912.0" cy="323.8" r="5.2" fill="#c70098"/><circle cx="915.0" cy="316.8" r="5.2" fill="#c70098"/><circle cx="915.0" cy="320.3" r="5.2" fill="#c70098"/><circle cx="915.0" cy="323.8" r="5.2" fill="#c70098"/><circle cx="920.7" cy="316.8" r="5.2" fill="#c70098"/><circle cx="920.7" cy="320.3" r="5.2" fill="#764ed0"/><circle cx="920.7" cy="323.8" r="5.2" fill="#c70098"/><circle cx="925.0" cy="316.8" r="5.2" fill="#c70098"/><circle cx="925.0" cy="320.3" r="5.2" fill="#f80067"/><circle cx="925.0" cy="323.8" r="5.2" fill="#c70098"/><circle cx="929.5" cy="316.8" r="5.2" fill="#f80067"/><circle cx="929.5" cy="320.3" r="5.2" fill="#f80067"/><circle cx="929.5" cy="323.8" r="5.2" fill="#c70098"/><circle cx="1048.5" cy="316.8" r="5.2" fill="#008bfb"/><circle cx="1052.4" cy="323.8" r="5.2" fill="#c70098"/><circle cx="1058.2" cy="316.8" r="5.2" fill="#ff0051"/><circle cx="1056.3" cy="323.8" r="5.2" fill="#008bfb"/><circle cx="1054.0" cy="320.3" r="5.2" fill="#ff0051"/><circle cx="1062.0" cy="316.8" r="5.2" fill="#ff0051"/><circle cx="1062.0" cy="320.3" r="5.2" fill="#ff0051"/><circle cx="1067.5" cy="323.8" r="5.2" fill="#ff0051"/><circle cx="1069.6" cy="327.3" r="5.2" fill="#008bfb"/><circle cx="1067.5" cy="313.3" r="5.2" fill="#008bfb"/><circle cx="1072.5" cy="313.3" r="5.2" fill="#ff0051"/><circle cx="1070.0" cy="316.8" r="5.2" fill="#ff0051"/><circle cx="1070.0" cy="320.3" r="5.2" fill="#ff0051"/><circle cx="1070.0" cy="323.8" r="5.2" fill="#ff0051"/><circle cx="1079.6" cy="313.3" r="5.2" fill="#008bfb"/><circle cx="1076.0" cy="316.8" r="5.2" fill="#ff0051"/><circle cx="1076.0" cy="320.3" r="5.2" fill="#ff0051"/><circle cx="1083.0" cy="320.3" r="5.2" fill="#ff0051"/><circle cx="1086.0" cy="320.3" r="5.2" fill="#ff0051"/><circle cx="1089.3" cy="316.8" r="5.2" fill="#c70098"/><circle cx="1093.0" cy="320.3" r="5.2" fill="#008bfb"/><circle cx="1101.8" cy="320.3" r="5.2" fill="#ff0051"/><circle cx="1097.0" cy="320.3" r="5.2" fill="#ff0051"/><circle cx="1106.0" cy="320.3" r="5.2" fill="#ff0051"/><circle cx="1110.2" cy="320.3" r="5.2" fill="#ff0051"/><circle cx="1114.8" cy="320.3" r="5.2" fill="#008bfb"/><circle cx="975.8" cy="410.2" r="5.2" fill="#c70098"/><circle cx="1007.8" cy="394.7" r="5.2" fill="#ff0051"/><circle cx="952.4" cy="385.4" r="5.2" fill="#764ed0"/><circle cx="1049.7" cy="397.8" r="5.2" fill="#aa17a7"/><circle cx="996.2" cy="388.5" r="5.2" fill="#c70098"/><circle cx="1005.0" cy="410.2" r="5.2" fill="#e50080"/><circle cx="941.1" cy="404.0" r="5.2" fill="#e50080"/><circle cx="989.1" cy="404.0" r="5.2" fill="#c70098"/><circle cx="983.0" cy="413.3" r="5.2" fill="#aa17a7"/><circle cx="1020.1" cy="391.6" r="5.2" fill="#008bfb"/><circle cx="942.0" cy="394.7" r="5.2" fill="#e50080"/><circle cx="998.5" cy="394.7" r="5.2" fill="#f80067"/><circle cx="988.0" cy="407.1" r="5.2" fill="#c70098"/><circle cx="987.2" cy="400.9" r="5.2" fill="#aa17a7"/><circle cx="969.9" cy="407.1" r="5.2" fill="#764ed0"/><circle cx="934.0" cy="400.9" r="5.2" fill="#e50080"/><circle cx="990.7" cy="391.6" r="5.2" fill="#ff0051"/><circle cx="940.4" cy="394.7" r="5.2" fill="#008bfb"/><circle cx="989.8" cy="413.3" r="5.2" fill="#e50080"/><circle cx="986.6" cy="410.2" r="5.2" fill="#c70098"/><circle cx="1005.4" cy="416.4" r="5.2" fill="#764ed0"/><circle cx="942.9" cy="391.6" r="5.2" fill="#008bfb"/><circle cx="939.0" cy="391.6" r="5.2" fill="#008bfb"/><circle cx="968.5" cy="388.5" r="5.2" fill="#008bfb"/><circle cx="948.0" cy="407.1" r="5.2" fill="#c70098"/><circle cx="1007.9" cy="388.5" r="5.2" fill="#c70098"/><circle cx="977.6" cy="394.7" r="5.2" fill="#f80067"/><circle cx="960.5" cy="404.0" r="5.2" fill="#aa17a7"/><circle cx="995.2" cy="394.7" r="5.2" fill="#f80067"/><circle cx="937.1" cy="394.7" r="5.2" fill="#c70098"/><circle cx="984.8" cy="404.0" r="5.2" fill="#c70098"/><circle cx="961.2" cy="400.9" r="5.2" fill="#e50080"/><circle cx="974.4" cy="416.4" r="5.2" fill="#764ed0"/><circle cx="1039.7" cy="397.8" r="5.2" fill="#008bfb"/><circle cx="1037.1" cy="391.6" r="5.2" fill="#e50080"/><circle cx="1024.1" cy="397.8" r="5.2" fill="#008bfb"/><circle cx="1004.2" cy="397.8" r="5.2" fill="#c70098"/><circle cx="939.3" cy="400.9" r="5.2" fill="#e50080"/><circle cx="1026.5" cy="394.7" r="5.2" fill="#008bfb"/><circle cx="978.8" cy="404.0" r="5.2" fill="#ff0051"/><circle cx="954.3" cy="397.8" r="5.2" fill="#c70098"/><circle cx="995.4" cy="407.1" r="5.2" fill="#c70098"/><circle cx="991.0" cy="385.4" r="5.2" fill="#aa17a7"/><circle cx="950.6" cy="407.1" r="5.2" fill="#c70098"/><circle cx="931.2" cy="397.8" r="5.2" fill="#e50080"/><circle cx="925.3" cy="391.6" r="5.2" fill="#008bfb"/><circle cx="984.5" cy="400.9" r="5.2" fill="#ff0051"/><circle cx="978.2" cy="382.3" r="5.2" fill="#764ed0"/><circle cx="955.5" cy="407.1" r="5.2" fill="#c70098"/><circle cx="933.2" cy="404.0" r="5.2" fill="#9233b9"/><circle cx="957.4" cy="410.2" r="5.2" fill="#c70098"/><circle cx="982.9" cy="397.8" r="5.2" fill="#ff0051"/><circle cx="961.6" cy="394.7" r="5.2" fill="#e50080"/><circle cx="993.0" cy="400.9" r="5.2" fill="#aa17a7"/><circle cx="977.1" cy="410.2" r="5.2" fill="#c70098"/><circle cx="959.8" cy="407.1" r="5.2" fill="#e50080"/><circle cx="935.0" cy="391.6" r="5.2" fill="#008bfb"/><circle cx="1017.7" cy="391.6" r="5.2" fill="#764ed0"/><circle cx="976.9" cy="404.0" r="5.2" fill="#aa17a7"/><circle cx="950.6" cy="400.9" r="5.2" fill="#c70098"/><circle cx="982.3" cy="394.7" r="5.2" fill="#9233b9"/><circle cx="976.8" cy="391.6" r="5.2" fill="#9233b9"/><circle cx="992.5" cy="388.5" r="5.2" fill="#f80067"/><circle cx="985.1" cy="391.6" r="5.2" fill="#c70098"/><circle cx="1009.3" cy="400.9" r="5.2" fill="#aa17a7"/><circle cx="995.9" cy="397.8" r="5.2" fill="#ff0051"/><circle cx="948.1" cy="391.6" r="5.2" fill="#008bfb"/><circle cx="1027.4" cy="400.9" r="5.2" fill="#008bfb"/><circle cx="1010.8" cy="394.7" r="5.2" fill="#764ed0"/><circle cx="960.6" cy="385.4" r="5.2" fill="#008bfb"/><circle cx="1017.4" cy="394.7" r="5.2" fill="#008bfb"/><circle cx="1003.8" cy="385.4" r="5.2" fill="#e50080"/><circle cx="986.0" cy="407.1" r="5.2" fill="#aa17a7"/><circle cx="1005.2" cy="376.1" r="5.2" fill="#008bfb"/><circle cx="982.4" cy="382.3" r="5.2" fill="#764ed0"/><circle cx="970.4" cy="400.9" r="5.2" fill="#e50080"/><circle cx="1003.3" cy="407.1" r="5.2" fill="#e50080"/><circle cx="974.3" cy="382.3" r="5.2" fill="#008bfb"/><circle cx="981.3" cy="385.4" r="5.2" fill="#9233b9"/><circle cx="994.7" cy="404.0" r="5.2" fill="#c70098"/><circle cx="990.7" cy="388.5" r="5.2" fill="#9233b9"/><circle cx="1011.9" cy="397.8" r="5.2" fill="#c70098"/><circle cx="1016.2" cy="404.0" r="5.2" fill="#764ed0"/><circle cx="1003.2" cy="382.3" r="5.2" fill="#ff0051"/><circle cx="1004.5" cy="400.9" r="5.2" fill="#c70098"/><circle cx="958.9" cy="391.6" r="5.2" fill="#008bfb"/><circle cx="1049.4" cy="391.6" r="5.2" fill="#c70098"/><circle cx="997.6" cy="391.6" r="5.2" fill="#c70098"/><circle cx="999.3" cy="407.1" r="5.2" fill="#f80067"/><circle cx="964.2" cy="400.9" r="5.2" fill="#ff0051"/><circle cx="945.4" cy="394.7" r="5.2" fill="#ff0051"/><circle cx="1002.7" cy="379.2" r="5.2" fill="#008bfb"/><circle cx="933.5" cy="394.7" r="5.2" fill="#aa17a7"/><circle cx="1014.7" cy="382.3" r="5.2" fill="#e50080"/><circle cx="983.6" cy="400.9" r="5.2" fill="#e50080"/><circle cx="995.4" cy="410.2" r="5.2" fill="#e50080"/><circle cx="993.3" cy="379.2" r="5.2" fill="#c70098"/><circle cx="1042.5" cy="404.0" r="5.2" fill="#f80067"/><circle cx="942.1" cy="407.1" r="5.2" fill="#9233b9"/><circle cx="1028.2" cy="391.6" r="5.2" fill="#e50080"/><circle cx="954.3" cy="388.5" r="5.2" fill="#008bfb"/><circle cx="1013.8" cy="391.6" r="5.2" fill="#008bfb"/><circle cx="932.3" cy="400.9" r="5.2" fill="#aa17a7"/><circle cx="940.9" cy="404.0" r="5.2" fill="#9233b9"/><circle cx="1036.9" cy="400.9" r="5.2" fill="#008bfb"/><circle cx="980.3" cy="400.9" r="5.2" fill="#f80067"/><circle cx="975.5" cy="400.9" r="5.2" fill="#c70098"/><circle cx="955.0" cy="385.4" r="5.2" fill="#764ed0"/><circle cx="1022.5" cy="397.8" r="5.2" fill="#008bfb"/><circle cx="947.3" cy="404.0" r="5.2" fill="#9233b9"/><circle cx="950.0" cy="394.7" r="5.2" fill="#764ed0"/><circle cx="990.5" cy="382.3" r="5.2" fill="#e50080"/><circle cx="1036.9" cy="404.0" r="5.2" fill="#f80067"/><circle cx="941.2" cy="397.8" r="5.2" fill="#c70098"/><circle cx="969.1" cy="397.8" r="5.2" fill="#e50080"/><circle cx="998.6" cy="385.4" r="5.2" fill="#ff0051"/><circle cx="947.5" cy="410.2" r="5.2" fill="#764ed0"/><circle cx="1032.8" cy="391.6" r="5.2" fill="#ff0051"/><circle cx="994.0" cy="413.3" r="5.2" fill="#c70098"/><circle cx="1044.9" cy="397.8" r="5.2" fill="#008bfb"/><circle cx="955.1" cy="404.0" r="5.2" fill="#c70098"/><circle cx="984.6" cy="388.5" r="5.2" fill="#9233b9"/><circle cx="967.7" cy="391.6" r="5.2" fill="#aa17a7"/><circle cx="980.1" cy="388.5" r="5.2" fill="#9233b9"/><circle cx="990.3" cy="382.3" r="5.2" fill="#e50080"/><circle cx="1008.2" cy="397.8" r="5.2" fill="#e50080"/><circle cx="1013.6" cy="388.5" r="5.2" fill="#aa17a7"/><circle cx="948.3" cy="397.8" r="5.2" fill="#e50080"/><circle cx="1008.2" cy="382.3" r="5.2" fill="#ff0051"/><circle cx="988.1" cy="410.2" r="5.2" fill="#e50080"/><circle cx="963.4" cy="391.6" r="5.2" fill="#e50080"/><circle cx="1031.2" cy="394.7" r="5.2" fill="#008bfb"/><circle cx="977.3" cy="388.5" r="5.2" fill="#764ed0"/><circle cx="977.8" cy="385.4" r="5.2" fill="#764ed0"/><circle cx="1029.7" cy="397.8" r="5.2" fill="#008bfb"/><circle cx="935.8" cy="391.6" r="5.2" fill="#008bfb"/><circle cx="991.4" cy="394.7" r="5.2" fill="#ff0051"/><circle cx="1009.6" cy="410.2" r="5.2" fill="#764ed0"/><circle cx="963.2" cy="397.8" r="5.2" fill="#f80067"/><circle cx="965.9" cy="404.0" r="5.2" fill="#c70098"/><circle cx="1008.8" cy="407.1" r="5.2" fill="#764ed0"/><circle cx="944.7" cy="400.9" r="5.2" fill="#aa17a7"/><circle cx="1000.0" cy="382.3" r="5.2" fill="#c70098"/><circle cx="980.7" cy="407.1" r="5.2" fill="#c70098"/><circle cx="995.5" cy="382.3" r="5.2" fill="#ff0051"/><circle cx="1012.3" cy="407.1" r="5.2" fill="#764ed0"/><circle cx="1016.3" cy="397.8" r="5.2" fill="#008bfb"/><circle cx="958.6" cy="388.5" r="5.2" fill="#008bfb"/><circle cx="953.0" cy="410.2" r="5.2" fill="#764ed0"/><circle cx="1008.7" cy="385.4" r="5.2" fill="#ff0051"/><circle cx="1011.3" cy="385.4" r="5.2" fill="#aa17a7"/><circle cx="1006.4" cy="391.6" r="5.2" fill="#ff0051"/><circle cx="1003.1" cy="373.0" r="5.2" fill="#764ed0"/><circle cx="1005.9" cy="394.7" r="5.2" fill="#f80067"/><circle cx="1006.1" cy="413.3" r="5.2" fill="#c70098"/><circle cx="955.2" cy="391.6" r="5.2" fill="#ff0051"/><circle cx="925.6" cy="400.9" r="5.2" fill="#aa17a7"/><circle cx="980.7" cy="391.6" r="5.2" fill="#9233b9"/><circle cx="981.7" cy="410.2" r="5.2" fill="#e50080"/><circle cx="957.9" cy="407.1" r="5.2" fill="#c70098"/><circle cx="1008.3" cy="391.6" r="5.2" fill="#e50080"/><circle cx="932.1" cy="391.6" r="5.2" fill="#008bfb"/><circle cx="958.8" cy="400.9" r="5.2" fill="#f80067"/><circle cx="962.7" cy="397.8" r="5.2" fill="#e50080"/><circle cx="1005.7" cy="382.3" r="5.2" fill="#ff0051"/><circle cx="988.6" cy="394.7" r="5.2" fill="#f80067"/><circle cx="928.8" cy="394.7" r="5.2" fill="#008bfb"/><circle cx="997.6" cy="404.0" r="5.2" fill="#c70098"/><circle cx="1044.6" cy="400.9" r="5.2" fill="#ff0051"/><circle cx="1042.4" cy="388.5" r="5.2" fill="#e50080"/><circle cx="974.7" cy="407.1" r="5.2" fill="#c70098"/><circle cx="993.8" cy="404.0" r="5.2" fill="#c70098"/><circle cx="1044.1" cy="391.6" r="5.2" fill="#ff0051"/><circle cx="1009.0" cy="404.0" r="5.2" fill="#c70098"/><circle cx="996.8" cy="413.3" r="5.2" fill="#aa17a7"/><circle cx="952.1" cy="382.3" r="5.2" fill="#764ed0"/><circle cx="1022.1" cy="404.0" r="5.2" fill="#008bfb"/><circle cx="1013.6" cy="394.7" r="5.2" fill="#c70098"/><circle cx="994.3" cy="416.4" r="5.2" fill="#e50080"/><circle cx="986.5" cy="397.8" r="5.2" fill="#ff0051"/><circle cx="941.5" cy="397.8" r="5.2" fill="#ff0051"/><circle cx="924.1" cy="394.7" r="5.2" fill="#008bfb"/><circle cx="942.3" cy="388.5" r="5.2" fill="#008bfb"/><circle cx="967.6" cy="385.4" r="5.2" fill="#008bfb"/><circle cx="1034.4" cy="400.9" r="5.2" fill="#008bfb"/><circle cx="1050.1" cy="400.9" r="5.2" fill="#e50080"/><circle cx="960.6" cy="410.2" r="5.2" fill="#764ed0"/><circle cx="979.2" cy="394.7" r="5.2" fill="#e50080"/><circle cx="1018.9" cy="400.9" r="5.2" fill="#008bfb"/><circle cx="1002.8" cy="404.0" r="5.2" fill="#f80067"/><circle cx="991.4" cy="385.4" r="5.2" fill="#c70098"/><circle cx="991.7" cy="410.2" r="5.2" fill="#c70098"/><circle cx="984.1" cy="394.7" r="5.2" fill="#aa17a7"/><circle cx="1013.9" cy="404.0" r="5.2" fill="#aa17a7"/><circle cx="996.9" cy="391.6" r="5.2" fill="#c70098"/><circle cx="1008.9" cy="388.5" r="5.2" fill="#c70098"/><circle cx="954.2" cy="400.9" r="5.2" fill="#aa17a7"/><circle cx="944.7" cy="388.5" r="5.2" fill="#008bfb"/><circle cx="980.8" cy="388.5" r="5.2" fill="#9233b9"/><circle cx="973.9" cy="397.8" r="5.2" fill="#ff0051"/><circle cx="1037.6" cy="394.7" r="5.2" fill="#ff0051"/><circle cx="956.8" cy="404.0" r="5.2" fill="#aa17a7"/><circle cx="1008.3" cy="410.2" r="5.2" fill="#764ed0"/><circle cx="979.3" cy="397.8" r="5.2" fill="#aa17a7"/><circle cx="951.4" cy="397.8" r="5.2" fill="#e50080"/><circle cx="1036.1" cy="397.8" r="5.2" fill="#008bfb"/><circle cx="1029.4" cy="400.9" r="5.2" fill="#008bfb"/><circle cx="933.6" cy="397.8" r="5.2" fill="#c70098"/><circle cx="1003.3" cy="413.3" r="5.2" fill="#c70098"/><circle cx="958.6" cy="397.8" r="5.2" fill="#aa17a7"/><circle cx="975.2" cy="413.3" r="5.2" fill="#764ed0"/><circle cx="1004.8" cy="391.6" r="5.2" fill="#ff0051"/><circle cx="1003.9" cy="388.5" r="5.2" fill="#aa17a7"/><circle cx="985.6" cy="385.4" r="5.2" fill="#9233b9"/><circle cx="1049.4" cy="394.7" r="5.2" fill="#e50080"/><circle cx="998.3" cy="413.3" r="5.2" fill="#c70098"/><circle cx="1001.0" cy="416.4" r="5.2" fill="#008bfb"/><circle cx="1002.0" cy="419.5" r="5.2" fill="#c70098"/><circle cx="924.2" cy="397.8" r="5.2" fill="#008bfb"/><circle cx="941.8" cy="400.9" r="5.2" fill="#aa17a7"/><circle cx="1019.4" cy="400.9" r="5.2" fill="#008bfb"/><circle cx="1008.2" cy="397.8" r="5.2" fill="#aa17a7"/><circle cx="1033.9" cy="394.7" r="5.2" fill="#ff0051"/><circle cx="957.4" cy="394.7" r="5.2" fill="#f80067"/><circle cx="1007.0" cy="400.9" r="5.2" fill="#c70098"/><circle cx="975.9" cy="379.2" r="5.2" fill="#008bfb"/><circle cx="976.1" cy="385.4" r="5.2" fill="#764ed0"/><circle cx="936.1" cy="404.0" r="5.2" fill="#9233b9"/><circle cx="1024.1" cy="391.6" r="5.2" fill="#f80067"/><circle cx="996.3" cy="400.9" r="5.2" fill="#e50080"/><circle cx="962.8" cy="388.5" r="5.2" fill="#008bfb"/><circle cx="1022.0" cy="394.7" r="5.2" fill="#008bfb"/><circle cx="1007.0" cy="385.4" r="5.2" fill="#ff0051"/><circle cx="1012.9" cy="400.9" r="5.2" fill="#c70098"/><circle cx="991.4" cy="397.8" r="5.2" fill="#aa17a7"/><circle cx="936.4" cy="397.8" r="5.2" fill="#aa17a7"/><circle cx="1008.7" cy="407.1" r="5.2" fill="#e50080"/><circle cx="952.7" cy="394.7" r="5.2" fill="#ff0051"/><circle cx="1045.0" cy="388.5" r="5.2" fill="#c70098"/><circle cx="999.7" cy="410.2" r="5.2" fill="#c70098"/><circle cx="986.0" cy="413.3" r="5.2" fill="#e50080"/><circle cx="985.4" cy="382.3" r="5.2" fill="#9233b9"/><circle cx="950.1" cy="410.2" r="5.2" fill="#764ed0"/><circle cx="965.7" cy="388.5" r="5.2" fill="#008bfb"/><circle cx="994.1" cy="385.4" r="5.2" fill="#c70098"/><circle cx="993.5" cy="407.1" r="5.2" fill="#9233b9"/><circle cx="964.2" cy="394.7" r="5.2" fill="#ff0051"/><circle cx="950.9" cy="391.6" r="5.2" fill="#ff0051"/><circle cx="995.3" cy="388.5" r="5.2" fill="#e50080"/><circle cx="948.9" cy="388.5" r="5.2" fill="#f80067"/><circle cx="1025.5" cy="404.0" r="5.2" fill="#008bfb"/><circle cx="987.7" cy="397.8" r="5.2" fill="#ff0051"/><circle cx="998.0" cy="397.8" r="5.2" fill="#e50080"/><circle cx="980.8" cy="404.0" r="5.2" fill="#e50080"/><circle cx="964.2" cy="407.1" r="5.2" fill="#c70098"/><circle cx="988.1" cy="391.6" r="5.2" fill="#9233b9"/><circle cx="1042.8" cy="394.7" r="5.2" fill="#008bfb"/><circle cx="997.9" cy="400.9" r="5.2" fill="#aa17a7"/><circle cx="970.6" cy="404.0" r="5.2" fill="#e50080"/><circle cx="983.9" cy="379.2" r="5.2" fill="#764ed0"/><circle cx="972.9" cy="416.4" r="5.2" fill="#764ed0"/><circle cx="1007.2" cy="404.0" r="5.2" fill="#aa17a7"/><circle cx="960.5" cy="391.6" r="5.2" fill="#008bfb"/><circle cx="980.8" cy="391.6" r="5.2" fill="#9233b9"/><circle cx="969.0" cy="394.7" r="5.2" fill="#e50080"/><circle cx="964.5" cy="385.4" r="5.2" fill="#008bfb"/><circle cx="948.0" cy="385.4" r="5.2" fill="#764ed0"/><circle cx="978.9" cy="407.1" r="5.2" fill="#c70098"/><circle cx="938.3" cy="400.9" r="5.2" fill="#9233b9"/><circle cx="951.5" cy="404.0" r="5.2" fill="#e50080"/><circle cx="1029.7" cy="404.0" r="5.2" fill="#008bfb"/><circle cx="1024.6" cy="388.5" r="5.2" fill="#ff0051"/><circle cx="704.1" cy="397.8" r="5.2" fill="#008bfb"/><circle cx="842.3" cy="397.8" r="5.2" fill="#4664e4"/><circle cx="863.6" cy="397.8" r="5.2" fill="#008bfb"/><circle cx="867.7" cy="397.8" r="5.2" fill="#c70098"/><circle cx="867.2" cy="394.7" r="5.2" fill="#008bfb"/><circle cx="879.0" cy="397.8" r="5.2" fill="#008bfb"/><circle cx="881.7" cy="394.7" r="5.2" fill="#c70098"/><circle cx="888.0" cy="397.8" r="5.2" fill="#ff0051"/><circle cx="895.3" cy="397.8" r="5.2" fill="#764ed0"/><circle cx="900.7" cy="397.8" r="5.2" fill="#764ed0"/><circle cx="902.5" cy="394.7" r="5.2" fill="#9233b9"/><circle cx="908.9" cy="397.8" r="5.2" fill="#764ed0"/><circle cx="915.2" cy="394.7" r="5.2" fill="#9233b9"/><circle cx="912.0" cy="397.8" r="5.2" fill="#764ed0"/><circle cx="918.0" cy="394.7" r="5.2" fill="#764ed0"/><circle cx="918.0" cy="397.8" r="5.2" fill="#764ed0"/><circle cx="922.5" cy="394.7" r="5.2" fill="#008bfb"/><circle cx="922.5" cy="397.8" r="5.2" fill="#008bfb"/><circle cx="922.5" cy="400.9" r="5.2" fill="#008bfb"/><circle cx="1054.8" cy="394.7" r="5.2" fill="#c70098"/><circle cx="1054.8" cy="397.8" r="5.2" fill="#c70098"/><circle cx="1054.8" cy="400.9" r="5.2" fill="#c70098"/><circle cx="1060.7" cy="397.8" r="5.2" fill="#ff0051"/><circle cx="1066.0" cy="397.8" r="5.2" fill="#008bfb"/><circle cx="1073.4" cy="400.9" r="5.2" fill="#008bfb"/><circle cx="1073.4" cy="394.7" r="5.2" fill="#ff0051"/><circle cx="1073.4" cy="397.8" r="5.2" fill="#ff0051"/><circle cx="1080.2" cy="397.8" r="5.2" fill="#ff0051"/><circle cx="1088.0" cy="400.9" r="5.2" fill="#ff0051"/><circle cx="1088.0" cy="394.7" r="5.2" fill="#008bfb"/><circle cx="1090.0" cy="394.7" r="5.2" fill="#008bfb"/><circle cx="1095.8" cy="397.8" r="5.2" fill="#ff0051"/><circle cx="1097.0" cy="397.8" r="5.2" fill="#ff0051"/><circle cx="1114.0" cy="400.9" r="5.2" fill="#008bfb"/><circle cx="1111.4" cy="394.7" r="5.2" fill="#008bfb"/><circle cx="1111.0" cy="397.8" r="5.2" fill="#ff0051"/><circle cx="1118.0" cy="394.7" r="5.2" fill="#ff0051"/><circle cx="1118.0" cy="397.8" r="5.2" fill="#ff0051"/><circle cx="1118.0" cy="400.9" r="5.2" fill="#ff0051"/><circle cx="1125.0" cy="397.8" r="5.2" fill="#ff0051"/><circle cx="1138.9" cy="397.8" r="5.2" fill="#008bfb"/><circle cx="1186.0" cy="397.8" r="5.2" fill="#008bfb"/><circle cx="1063.9" cy="479.8" r="5.2" fill="#ff0051"/><circle cx="1040.0" cy="479.8" r="5.2" fill="#ff0051"/><circle cx="978.8" cy="475.1" r="5.2" fill="#c70098"/><circle cx="967.5" cy="470.5" r="5.2" fill="#ff0051"/><circle cx="1064.4" cy="475.1" r="5.2" fill="#008bfb"/><circle cx="1068.7" cy="475.1" r="5.2" fill="#008bfb"/><circle cx="1029.7" cy="470.5" r="5.2" fill="#008bfb"/><circle cx="1056.5" cy="470.5" r="5.2" fill="#008bfb"/><circle cx="978.5" cy="470.5" r="5.2" fill="#008bfb"/><circle cx="977.0" cy="475.1" r="5.2" fill="#008bfb"/><circle cx="1048.7" cy="465.8" r="5.2" fill="#008bfb"/><circle cx="1025.6" cy="475.1" r="5.2" fill="#008bfb"/><circle cx="1027.9" cy="470.5" r="5.2" fill="#008bfb"/><circle cx="995.6" cy="456.5" r="5.2" fill="#008bfb"/><circle cx="1043.3" cy="470.5" r="5.2" fill="#008bfb"/><circle cx="1049.7" cy="484.4" r="5.2" fill="#008bfb"/><circle cx="1004.7" cy="484.4" r="5.2" fill="#008bfb"/><circle cx="990.7" cy="479.8" r="5.2" fill="#008bfb"/><circle cx="1049.0" cy="484.4" r="5.2" fill="#008bfb"/><circle cx="1018.6" cy="465.8" r="5.2" fill="#008bfb"/><circle cx="992.8" cy="470.5" r="5.2" fill="#008bfb"/><circle cx="979.4" cy="479.8" r="5.2" fill="#008bfb"/><circle cx="999.5" cy="484.4" r="5.2" fill="#008bfb"/><circle cx="1009.2" cy="465.8" r="5.2" fill="#008bfb"/><circle cx="1030.9" cy="479.8" r="5.2" fill="#008bfb"/><circle cx="1000.6" cy="493.7" r="5.2" fill="#008bfb"/><circle cx="990.4" cy="484.4" r="5.2" fill="#008bfb"/><circle cx="1020.5" cy="470.5" r="5.2" fill="#008bfb"/><circle cx="1030.6" cy="475.1" r="5.2" fill="#008bfb"/><circle cx="1027.4" cy="456.5" r="5.2" fill="#008bfb"/><circle cx="995.2" cy="461.2" r="5.2" fill="#008bfb"/><circle cx="1051.8" cy="470.5" r="5.2" fill="#008bfb"/><circle cx="1022.3" cy="493.7" r="5.2" fill="#008bfb"/><circle cx="1051.6" cy="461.2" r="5.2" fill="#008bfb"/><circle cx="1044.0" cy="479.8" r="5.2" fill="#008bfb"/><circle cx="1067.6" cy="465.8" r="5.2" fill="#008bfb"/><circle cx="976.4" cy="489.1" r="5.2" fill="#008bfb"/><circle cx="1003.4" cy="461.2" r="5.2" fill="#008bfb"/><circle cx="993.4" cy="489.1" r="5.2" fill="#008bfb"/><circle cx="990.0" cy="456.5" r="5.2" fill="#008bfb"/><circle cx="1020.6" cy="470.5" r="5.2" fill="#008bfb"/><circle cx="1020.4" cy="484.4" r="5.2" fill="#008bfb"/><circle cx="972.6" cy="484.4" r="5.2" fill="#008bfb"/><circle cx="1029.3" cy="465.8" r="5.2" fill="#008bfb"/><circle cx="1054.1" cy="479.8" r="5.2" fill="#008bfb"/><circle cx="951.9" cy="475.1" r="5.2" fill="#008bfb"/><circle cx="978.9" cy="461.2" r="5.2" fill="#008bfb"/><circle cx="970.6" cy="484.4" r="5.2" fill="#008bfb"/><circle cx="990.3" cy="484.4" r="5.2" fill="#008bfb"/><circle cx="997.8" cy="465.8" r="5.2" fill="#008bfb"/><circle cx="996.2" cy="456.5" r="5.2" fill="#008bfb"/><circle cx="973.9" cy="479.8" r="5.2" fill="#008bfb"/><circle cx="1023.3" cy="451.9" r="5.2" fill="#008bfb"/><circle cx="1002.2" cy="451.9" r="5.2" fill="#008bfb"/><circle cx="1035.9" cy="484.4" r="5.2" fill="#008bfb"/><circle cx="1020.6" cy="489.1" r="5.2" fill="#008bfb"/><circle cx="1066.7" cy="479.8" r="5.2" fill="#008bfb"/><circle cx="1005.7" cy="493.7" r="5.2" fill="#008bfb"/><circle cx="994.0" cy="465.8" r="5.2" fill="#008bfb"/><circle cx="987.7" cy="475.1" r="5.2" fill="#008bfb"/><circle cx="968.1" cy="475.1" r="5.2" fill="#008bfb"/><circle cx="1014.5" cy="493.7" r="5.2" fill="#008bfb"/><circle cx="985.3" cy="484.4" r="5.2" fill="#008bfb"/><circle cx="1053.3" cy="475.1" r="5.2" fill="#008bfb"/><circle cx="954.0" cy="470.5" r="5.2" fill="#008bfb"/><circle cx="1045.5" cy="470.5" r="5.2" fill="#008bfb"/><circle cx="984.9" cy="465.8" r="5.2" fill="#008bfb"/><circle cx="1019.0" cy="461.2" r="5.2" fill="#008bfb"/><circle cx="955.0" cy="479.8" r="5.2" fill="#008bfb"/><circle cx="1027.9" cy="484.4" r="5.2" fill="#008bfb"/><circle cx="982.1" cy="470.5" r="5.2" fill="#008bfb"/><circle cx="1055.5" cy="484.4" r="5.2" fill="#008bfb"/><circle cx="999.4" cy="489.1" r="5.2" fill="#008bfb"/><circle cx="1028.3" cy="475.1" r="5.2" fill="#008bfb"/><circle cx="1022.9" cy="498.4" r="5.2" fill="#008bfb"/><circle cx="979.5" cy="461.2" r="5.2" fill="#008bfb"/><circle cx="1023.2" cy="465.8" r="5.2" fill="#008bfb"/><circle cx="1004.7" cy="470.5" r="5.2" fill="#008bfb"/><circle cx="986.9" cy="489.1" r="5.2" fill="#008bfb"/><circle cx="1019.2" cy="475.1" r="5.2" fill="#008bfb"/><circle cx="995.6" cy="484.4" r="5.2" fill="#008bfb"/><circle cx="1033.0" cy="470.5" r="5.2" fill="#008bfb"/><circle cx="990.6" cy="479.8" r="5.2" fill="#008bfb"/><circle cx="954.3" cy="465.8" r="5.2" fill="#008bfb"/><circle cx="978.4" cy="484.4" r="5.2" fill="#008bfb"/><circle cx="1034.2" cy="484.4" r="5.2" fill="#008bfb"/><circle cx="1014.2" cy="470.5" r="5.2" fill="#008bfb"/><circle cx="980.2" cy="493.7" r="5.2" fill="#008bfb"/><circle cx="988.8" cy="475.1" r="5.2" fill="#008bfb"/><circle cx="1004.2" cy="465.8" r="5.2" fill="#008bfb"/><circle cx="991.8" cy="465.8" r="5.2" fill="#008bfb"/><circle cx="971.5" cy="470.5" r="5.2" fill="#008bfb"/><circle cx="951.0" cy="475.1" r="5.2" fill="#008bfb"/><circle cx="1011.1" cy="461.2" r="5.2" fill="#008bfb"/><circle cx="1002.6" cy="461.2" r="5.2" fill="#008bfb"/><circle cx="1015.7" cy="479.8" r="5.2" fill="#008bfb"/><circle cx="971.2" cy="470.5" r="5.2" fill="#008bfb"/><circle cx="993.6" cy="475.1" r="5.2" fill="#008bfb"/><circle cx="1003.6" cy="475.1" r="5.2" fill="#008bfb"/><circle cx="1068.9" cy="465.8" r="5.2" fill="#008bfb"/><circle cx="982.3" cy="461.2" r="5.2" fill="#008bfb"/><circle cx="1017.9" cy="465.8" r="5.2" fill="#008bfb"/><circle cx="984.9" cy="489.1" r="5.2" fill="#008bfb"/><circle cx="1037.3" cy="465.8" r="5.2" fill="#008bfb"/><circle cx="1023.2" cy="479.8" r="5.2" fill="#008bfb"/><circle cx="1005.4" cy="461.2" r="5.2" fill="#008bfb"/><circle cx="1006.8" cy="493.7" r="5.2" fill="#008bfb"/><circle cx="994.9" cy="479.8" r="5.2" fill="#008bfb"/><circle cx="1023.0" cy="484.4" r="5.2" fill="#008bfb"/><circle cx="1053.6" cy="465.8" r="5.2" fill="#008bfb"/><circle cx="1024.0" cy="493.7" r="5.2" fill="#008bfb"/><circle cx="1020.9" cy="475.1" r="5.2" fill="#008bfb"/><circle cx="1043.3" cy="484.4" r="5.2" fill="#008bfb"/><circle cx="1013.0" cy="493.7" r="5.2" fill="#008bfb"/><circle cx="978.4" cy="484.4" r="5.2" fill="#008bfb"/><circle cx="1014.4" cy="465.8" r="5.2" fill="#008bfb"/><circle cx="999.7" cy="470.5" r="5.2" fill="#008bfb"/><circle cx="1032.3" cy="479.8" r="5.2" fill="#008bfb"/><circle cx="1017.0" cy="456.5" r="5.2" fill="#008bfb"/><circle cx="1005.2" cy="465.8" r="5.2" fill="#008bfb"/><circle cx="1002.0" cy="456.5" r="5.2" fill="#008bfb"/><circle cx="996.5" cy="489.1" r="5.2" fill="#008bfb"/><circle cx="996.9" cy="493.7" r="5.2" fill="#008bfb"/><circle cx="973.9" cy="465.8" r="5.2" fill="#008bfb"/><circle cx="1058.5" cy="470.5" r="5.2" fill="#008bfb"/><circle cx="999.3" cy="475.1" r="5.2" fill="#008bfb"/><circle cx="973.7" cy="479.8" r="5.2" fill="#008bfb"/><circle cx="972.5" cy="470.5" r="5.2" fill="#008bfb"/><circle cx="1012.5" cy="456.5" r="5.2" fill="#008bfb"/><circle cx="982.0" cy="456.5" r="5.2" fill="#008bfb"/><circle cx="1060.2" cy="475.1" r="5.2" fill="#008bfb"/><circle cx="999.2" cy="470.5" r="5.2" fill="#008bfb"/><circle cx="1025.4" cy="489.1" r="5.2" fill="#008bfb"/><circle cx="1008.1" cy="461.2" r="5.2" fill="#008bfb"/><circle cx="999.7" cy="493.7" r="5.2" fill="#008bfb"/><circle cx="999.3" cy="461.2" r="5.2" fill="#008bfb"/><circle cx="1002.7" cy="456.5" r="5.2" fill="#008bfb"/><circle cx="1059.1" cy="479.8" r="5.2" fill="#008bfb"/><circle cx="975.3" cy="475.1" r="5.2" fill="#008bfb"/><circle cx="1028.4" cy="465.8" r="5.2" fill="#008bfb"/><circle cx="992.8" cy="461.2" r="5.2" fill="#008bfb"/><circle cx="1017.3" cy="484.4" r="5.2" fill="#008bfb"/><circle cx="1070.8" cy="479.8" r="5.2" fill="#008bfb"/><circle cx="1009.9" cy="484.4" r="5.2" fill="#008bfb"/><circle cx="973.6" cy="475.1" r="5.2" fill="#008bfb"/><circle cx="1023.2" cy="456.5" r="5.2" fill="#008bfb"/><circle cx="984.9" cy="465.8" r="5.2" fill="#008bfb"/><circle cx="1023.9" cy="451.9" r="5.2" fill="#008bfb"/><circle cx="1010.7" cy="470.5" r="5.2" fill="#008bfb"/><circle cx="1006.3" cy="484.4" r="5.2" fill="#008bfb"/><circle cx="1008.4" cy="493.7" r="5.2" fill="#008bfb"/><circle cx="1029.1" cy="489.1" r="5.2" fill="#008bfb"/><circle cx="1014.9" cy="470.5" r="5.2" fill="#008bfb"/><circle cx="1001.6" cy="484.4" r="5.2" fill="#008bfb"/><circle cx="1012.8" cy="489.1" r="5.2" fill="#008bfb"/><circle cx="1020.4" cy="461.2" r="5.2" fill="#008bfb"/><circle cx="1000.5" cy="475.1" r="5.2" fill="#008bfb"/><circle cx="1069.1" cy="470.5" r="5.2" fill="#008bfb"/><circle cx="1020.9" cy="456.5" r="5.2" fill="#008bfb"/><circle cx="1008.1" cy="479.8" r="5.2" fill="#008bfb"/><circle cx="1055.4" cy="461.2" r="5.2" fill="#008bfb"/><circle cx="987.1" cy="461.2" r="5.2" fill="#008bfb"/><circle cx="1008.0" cy="456.5" r="5.2" fill="#008bfb"/><circle cx="1001.4" cy="465.8" r="5.2" fill="#008bfb"/><circle cx="1016.0" cy="489.1" r="5.2" fill="#008bfb"/><circle cx="1026.1" cy="470.5" r="5.2" fill="#008bfb"/><circle cx="990.3" cy="489.1" r="5.2" fill="#008bfb"/><circle cx="1022.6" cy="461.2" r="5.2" fill="#008bfb"/><circle cx="1035.0" cy="475.1" r="5.2" fill="#008bfb"/><circle cx="984.6" cy="479.8" r="5.2" fill="#008bfb"/><circle cx="988.2" cy="465.8" r="5.2" fill="#008bfb"/><circle cx="1021.0" cy="465.8" r="5.2" fill="#008bfb"/><circle cx="970.4" cy="484.4" r="5.2" fill="#008bfb"/><circle cx="1027.5" cy="479.8" r="5.2" fill="#008bfb"/><circle cx="1041.8" cy="461.2" r="5.2" fill="#008bfb"/><circle cx="982.0" cy="484.4" r="5.2" fill="#008bfb"/><circle cx="1009.5" cy="456.5" r="5.2" fill="#008bfb"/><circle cx="988.8" cy="470.5" r="5.2" fill="#008bfb"/><circle cx="1005.1" cy="451.9" r="5.2" fill="#008bfb"/><circle cx="982.0" cy="475.1" r="5.2" fill="#008bfb"/><circle cx="1005.9" cy="470.5" r="5.2" fill="#008bfb"/><circle cx="1041.5" cy="465.8" r="5.2" fill="#008bfb"/><circle cx="993.2" cy="470.5" r="5.2" fill="#008bfb"/><circle cx="1024.2" cy="456.5" r="5.2" fill="#008bfb"/><circle cx="975.9" cy="465.8" r="5.2" fill="#008bfb"/><circle cx="996.9" cy="479.8" r="5.2" fill="#008bfb"/><circle cx="1036.3" cy="479.8" r="5.2" fill="#008bfb"/><circle cx="1028.0" cy="461.2" r="5.2" fill="#008bfb"/><circle cx="1009.0" cy="479.8" r="5.2" fill="#008bfb"/><circle cx="1030.4" cy="461.2" r="5.2" fill="#008bfb"/><circle cx="970.4" cy="465.8" r="5.2" fill="#008bfb"/><circle cx="1019.8" cy="479.8" r="5.2" fill="#008bfb"/><circle cx="948.7" cy="479.8" r="5.2" fill="#008bfb"/><circle cx="1060.0" cy="465.8" r="5.2" fill="#008bfb"/><circle cx="1017.1" cy="484.4" r="5.2" fill="#008bfb"/><circle cx="1013.4" cy="484.4" r="5.2" fill="#008bfb"/><circle cx="1050.1" cy="479.8" r="5.2" fill="#008bfb"/><circle cx="1048.4" cy="461.2" r="5.2" fill="#008bfb"/><circle cx="1048.3" cy="475.1" r="5.2" fill="#008bfb"/><circle cx="979.4" cy="470.5" r="5.2" fill="#008bfb"/><circle cx="987.7" cy="461.2" r="5.2" fill="#008bfb"/><circle cx="1019.3" cy="493.7" r="5.2" fill="#008bfb"/><circle cx="1034.4" cy="465.8" r="5.2" fill="#008bfb"/><circle cx="1024.5" cy="479.8" r="5.2" fill="#008bfb"/><circle cx="976.2" cy="479.8" r="5.2" fill="#008bfb"/><circle cx="993.4" cy="475.1" r="5.2" fill="#008bfb"/><circle cx="999.7" cy="451.9" r="5.2" fill="#008bfb"/><circle cx="1065.3" cy="470.5" r="5.2" fill="#008bfb"/><circle cx="978.1" cy="465.8" r="5.2" fill="#008bfb"/><circle cx="1041.7" cy="475.1" r="5.2" fill="#008bfb"/><circle cx="1008.9" cy="475.1" r="5.2" fill="#008bfb"/><circle cx="1033.4" cy="475.1" r="5.2" fill="#008bfb"/><circle cx="950.3" cy="465.8" r="5.2" fill="#008bfb"/><circle cx="983.6" cy="479.8" r="5.2" fill="#008bfb"/><circle cx="1017.6" cy="461.2" r="5.2" fill="#008bfb"/><circle cx="951.5" cy="470.5" r="5.2" fill="#008bfb"/><circle cx="1014.0" cy="475.1" r="5.2" fill="#008bfb"/><circle cx="984.8" cy="470.5" r="5.2" fill="#008bfb"/><circle cx="1047.0" cy="479.8" r="5.2" fill="#008bfb"/><circle cx="969.9" cy="479.8" r="5.2" fill="#008bfb"/><circle cx="1005.6" cy="479.8" r="5.2" fill="#008bfb"/><circle cx="999.3" cy="479.8" r="5.2" fill="#008bfb"/><circle cx="998.1" cy="489.1" r="5.2" fill="#008bfb"/><circle cx="1005.1" cy="489.1" r="5.2" fill="#008bfb"/><circle cx="1018.4" cy="451.9" r="5.2" fill="#008bfb"/><circle cx="1017.0" cy="451.9" r="5.2" fill="#008bfb"/><circle cx="1011.4" cy="451.9" r="5.2" fill="#008bfb"/><circle cx="1023.0" cy="489.1" r="5.2" fill="#008bfb"/><circle cx="1010.3" cy="475.1" r="5.2" fill="#008bfb"/><circle cx="1008.9" cy="489.1" r="5.2" fill="#008bfb"/><circle cx="1017.5" cy="475.1" r="5.2" fill="#008bfb"/><circle cx="981.1" cy="489.1" r="5.2" fill="#008bfb"/><circle cx="1007.6" cy="489.1" r="5.2" fill="#008bfb"/><circle cx="1052.4" cy="475.1" r="5.2" fill="#008bfb"/><circle cx="1050.3" cy="465.8" r="5.2" fill="#008bfb"/><circle cx="1014.1" cy="479.8" r="5.2" fill="#008bfb"/><circle cx="981.7" cy="465.8" r="5.2" fill="#008bfb"/><circle cx="983.9" cy="475.1" r="5.2" fill="#008bfb"/><circle cx="1032.3" cy="484.4" r="5.2" fill="#008bfb"/><circle cx="1037.4" cy="470.5" r="5.2" fill="#008bfb"/><circle cx="1013.0" cy="451.9" r="5.2" fill="#008bfb"/><circle cx="999.2" cy="451.9" r="5.2" fill="#008bfb"/><circle cx="873.2" cy="475.1" r="5.2" fill="#008bfb"/><circle cx="900.4" cy="475.1" r="5.2" fill="#008bfb"/><circle cx="895.1" cy="475.1" r="5.2" fill="#ff0051"/><circle cx="910.7" cy="470.5" r="5.2" fill="#008bfb"/><circle cx="909.7" cy="475.1" r="5.2" fill="#ff0051"/><circle cx="918.5" cy="475.1" r="5.2" fill="#008bfb"/><circle cx="923.0" cy="475.1" r="5.2" fill="#008bfb"/><circle cx="928.0" cy="475.1" r="5.2" fill="#008bfb"/><circle cx="933.0" cy="475.1" r="5.2" fill="#008bfb"/><circle cx="937.0" cy="470.5" r="5.2" fill="#008bfb"/><circle cx="937.0" cy="475.1" r="5.2" fill="#008bfb"/><circle cx="939.9" cy="479.8" r="5.2" fill="#c70098"/><circle cx="940.0" cy="470.5" r="5.2" fill="#008bfb"/><circle cx="940.0" cy="475.1" r="5.2" fill="#008bfb"/><circle cx="940.0" cy="479.8" r="5.2" fill="#008bfb"/><circle cx="944.0" cy="470.5" r="5.2" fill="#008bfb"/><circle cx="944.0" cy="475.1" r="5.2" fill="#008bfb"/><circle cx="944.0" cy="479.8" r="5.2" fill="#008bfb"/><circle cx="947.0" cy="470.5" r="5.2" fill="#008bfb"/><circle cx="947.0" cy="475.1" r="5.2" fill="#008bfb"/><circle cx="947.0" cy="479.8" r="5.2" fill="#008bfb"/><circle cx="956.0" cy="470.5" r="5.2" fill="#008bfb"/><circle cx="956.0" cy="475.1" r="5.2" fill="#008bfb"/><circle cx="956.0" cy="479.8" r="5.2" fill="#008bfb"/><circle cx="961.7" cy="470.5" r="5.2" fill="#008bfb"/><circle cx="961.7" cy="475.1" r="5.2" fill="#008bfb"/><circle cx="965.0" cy="470.5" r="5.2" fill="#008bfb"/><circle cx="965.0" cy="475.1" r="5.2" fill="#008bfb"/><circle cx="965.0" cy="479.8" r="5.2" fill="#008bfb"/><circle cx="1075.0" cy="465.8" r="5.2" fill="#008bfb"/><circle cx="1075.0" cy="470.5" r="5.2" fill="#008bfb"/><circle cx="1075.0" cy="475.1" r="5.2" fill="#008bfb"/><circle cx="1080.8" cy="479.8" r="5.2" fill="#ff0051"/><circle cx="1079.0" cy="465.8" r="5.2" fill="#008bfb"/><circle cx="1079.0" cy="470.5" r="5.2" fill="#008bfb"/><circle cx="1079.0" cy="475.1" r="5.2" fill="#008bfb"/><circle cx="1083.3" cy="465.8" r="5.2" fill="#008bfb"/><circle cx="1083.3" cy="470.5" r="5.2" fill="#008bfb"/><circle cx="1083.3" cy="475.1" r="5.2" fill="#008bfb"/><circle cx="1087.0" cy="470.5" r="5.2" fill="#008bfb"/><circle cx="1087.0" cy="475.1" r="5.2" fill="#008bfb"/><circle cx="1091.0" cy="470.5" r="5.2" fill="#008bfb"/><circle cx="1091.0" cy="475.1" r="5.2" fill="#008bfb"/><circle cx="1096.0" cy="470.5" r="5.2" fill="#008bfb"/><circle cx="1096.0" cy="475.1" r="5.2" fill="#008bfb"/><circle cx="1101.0" cy="470.5" r="5.2" fill="#008bfb"/><circle cx="1101.0" cy="475.1" r="5.2" fill="#008bfb"/><circle cx="1106.0" cy="470.5" r="5.2" fill="#008bfb"/><circle cx="1107.0" cy="475.1" r="5.2" fill="#ff0051"/><circle cx="1115.5" cy="475.1" r="5.2" fill="#008bfb"/><circle cx="1132.5" cy="475.1" r="5.2" fill="#008bfb"/><circle cx="1141.3" cy="475.1" r="5.2" fill="#008bfb"/><circle cx="1013.9" cy="548.6" r="5.2" fill="#c70098"/><circle cx="1005.8" cy="552.6" r="5.2" fill="#e50080"/><circle cx="987.3" cy="556.6" r="5.2" fill="#e50080"/><circle cx="984.7" cy="548.6" r="5.2" fill="#c70098"/><circle cx="975.3" cy="560.6" r="5.2" fill="#aa17a7"/><circle cx="1041.7" cy="540.6" r="5.2" fill="#ff0051"/><circle cx="1044.7" cy="552.6" r="5.2" fill="#c70098"/><circle cx="1006.9" cy="540.6" r="5.2" fill="#e50080"/><circle cx="1041.7" cy="560.6" r="5.2" fill="#c70098"/><circle cx="973.6" cy="552.6" r="5.2" fill="#e50080"/><circle cx="1052.5" cy="552.6" r="5.2" fill="#f80067"/><circle cx="989.3" cy="568.6" r="5.2" fill="#c70098"/><circle cx="1004.0" cy="564.6" r="5.2" fill="#c70098"/><circle cx="985.2" cy="564.6" r="5.2" fill="#e50080"/><circle cx="984.6" cy="548.6" r="5.2" fill="#ff0051"/><circle cx="1001.0" cy="544.6" r="5.2" fill="#f80067"/><circle cx="1030.6" cy="548.6" r="5.2" fill="#c70098"/><circle cx="994.8" cy="564.6" r="5.2" fill="#c70098"/><circle cx="1040.6" cy="548.6" r="5.2" fill="#ff0051"/><circle cx="1000.8" cy="568.6" r="5.2" fill="#ff0051"/><circle cx="992.0" cy="532.6" r="5.2" fill="#c70098"/><circle cx="969.6" cy="540.6" r="5.2" fill="#aa17a7"/><circle cx="1055.0" cy="548.6" r="5.2" fill="#f80067"/><circle cx="1039.3" cy="560.6" r="5.2" fill="#c70098"/><circle cx="1017.2" cy="544.6" r="5.2" fill="#f80067"/><circle cx="1047.3" cy="556.6" r="5.2" fill="#aa17a7"/><circle cx="1052.3" cy="544.6" r="5.2" fill="#ff0051"/><circle cx="967.1" cy="556.6" r="5.2" fill="#c70098"/><circle cx="1005.8" cy="532.6" r="5.2" fill="#f80067"/><circle cx="1039.2" cy="548.6" r="5.2" fill="#e50080"/><circle cx="1033.5" cy="552.6" r="5.2" fill="#4664e4"/><circle cx="997.8" cy="548.6" r="5.2" fill="#aa17a7"/><circle cx="984.0" cy="544.6" r="5.2" fill="#e50080"/><circle cx="1028.0" cy="556.6" r="5.2" fill="#ff0051"/><circle cx="992.7" cy="536.6" r="5.2" fill="#c70098"/><circle cx="982.7" cy="536.6" r="5.2" fill="#9233b9"/><circle cx="1015.4" cy="552.6" r="5.2" fill="#4664e4"/><circle cx="1031.8" cy="544.6" r="5.2" fill="#ff0051"/><circle cx="1007.3" cy="560.6" r="5.2" fill="#e50080"/><circle cx="1001.8" cy="556.6" r="5.2" fill="#e50080"/><circle cx="1006.6" cy="528.7" r="5.2" fill="#4664e4"/><circle cx="995.5" cy="556.6" r="5.2" fill="#aa17a7"/><circle cx="1002.3" cy="552.6" r="5.2" fill="#c70098"/><circle cx="974.9" cy="552.6" r="5.2" fill="#4664e4"/><circle cx="1052.9" cy="552.6" r="5.2" fill="#c70098"/><circle cx="1028.8" cy="560.6" r="5.2" fill="#c70098"/><circle cx="966.4" cy="544.6" r="5.2" fill="#f80067"/><circle cx="1000.6" cy="544.6" r="5.2" fill="#c70098"/><circle cx="1037.0" cy="552.6" r="5.2" fill="#aa17a7"/><circle cx="1053.7" cy="556.6" r="5.2" fill="#aa17a7"/><circle cx="1015.2" cy="556.6" r="5.2" fill="#ff0051"/><circle cx="1020.0" cy="564.6" r="5.2" fill="#aa17a7"/><circle cx="1007.3" cy="568.6" r="5.2" fill="#aa17a7"/><circle cx="997.2" cy="548.6" r="5.2" fill="#ff0051"/><circle cx="1015.5" cy="548.6" r="5.2" fill="#c70098"/><circle cx="994.5" cy="552.6" r="5.2" fill="#c70098"/><circle cx="979.9" cy="556.6" r="5.2" fill="#c70098"/><circle cx="999.6" cy="536.6" r="5.2" fill="#aa17a7"/><circle cx="981.5" cy="548.6" r="5.2" fill="#e50080"/><circle cx="977.5" cy="540.6" r="5.2" fill="#c70098"/><circle cx="1008.1" cy="556.6" r="5.2" fill="#f80067"/><circle cx="973.1" cy="560.6" r="5.2" fill="#ff0051"/><circle cx="1034.6" cy="544.6" r="5.2" fill="#ff0051"/><circle cx="999.1" cy="532.6" r="5.2" fill="#f80067"/><circle cx="1048.1" cy="544.6" r="5.2" fill="#ff0051"/><circle cx="1022.6" cy="552.6" r="5.2" fill="#c70098"/><circle cx="1042.5" cy="564.6" r="5.2" fill="#4664e4"/><circle cx="1010.3" cy="540.6" r="5.2" fill="#aa17a7"/><circle cx="1017.8" cy="560.6" r="5.2" fill="#c70098"/><circle cx="990.4" cy="536.6" r="5.2" fill="#c70098"/><circle cx="979.3" cy="548.6" r="5.2" fill="#c70098"/><circle cx="999.7" cy="540.6" r="5.2" fill="#e50080"/><circle cx="1009.0" cy="552.6" r="5.2" fill="#e50080"/><circle cx="1010.2" cy="564.6" r="5.2" fill="#e50080"/><circle cx="1022.8" cy="548.6" r="5.2" fill="#ff0051"/><circle cx="999.3" cy="560.6" r="5.2" fill="#ff0051"/><circle cx="976.6" cy="544.6" r="5.2" fill="#c70098"/><circle cx="990.0" cy="544.6" r="5.2" fill="#aa17a7"/><circle cx="1043.4" cy="548.6" r="5.2" fill="#ff0051"/><circle cx="964.6" cy="548.6" r="5.2" fill="#e50080"/><circle cx="1003.8" cy="536.6" r="5.2" fill="#ff0051"/><circle cx="1050.0" cy="548.6" r="5.2" fill="#ff0051"/><circle cx="1027.1" cy="544.6" r="5.2" fill="#ff0051"/><circle cx="1058.6" cy="552.6" r="5.2" fill="#e50080"/><circle cx="979.2" cy="552.6" r="5.2" fill="#aa17a7"/><circle cx="998.1" cy="572.6" r="5.2" fill="#ff0051"/><circle cx="993.1" cy="560.6" r="5.2" fill="#ff0051"/><circle cx="978.6" cy="560.6" r="5.2" fill="#ff0051"/><circle cx="1006.8" cy="544.6" r="5.2" fill="#c70098"/><circle cx="1006.3" cy="576.5" r="5.2" fill="#f80067"/><circle cx="1046.7" cy="540.6" r="5.2" fill="#4664e4"/><circle cx="993.0" cy="548.6" r="5.2" fill="#e50080"/><circle cx="1020.6" cy="544.6" r="5.2" fill="#e50080"/><circle cx="1006.9" cy="536.6" r="5.2" fill="#e50080"/><circle cx="976.0" cy="556.6" r="5.2" fill="#e50080"/><circle cx="971.8" cy="540.6" r="5.2" fill="#ff0051"/><circle cx="970.7" cy="548.6" r="5.2" fill="#f80067"/><circle cx="1046.2" cy="544.6" r="5.2" fill="#ff0051"/><circle cx="1040.3" cy="552.6" r="5.2" fill="#e50080"/><circle cx="1000.6" cy="568.6" r="5.2" fill="#c70098"/><circle cx="966.0" cy="552.6" r="5.2" fill="#c70098"/><circle cx="947.8" cy="544.6" r="5.2" fill="#4664e4"/><circle cx="980.9" cy="564.6" r="5.2" fill="#ff0051"/><circle cx="1009.4" cy="572.6" r="5.2" fill="#f80067"/><circle cx="1017.7" cy="556.6" r="5.2" fill="#e50080"/><circle cx="947.3" cy="552.6" r="5.2" fill="#e50080"/><circle cx="1027.3" cy="552.6" r="5.2" fill="#c70098"/><circle cx="990.9" cy="552.6" r="5.2" fill="#c70098"/><circle cx="1036.8" cy="544.6" r="5.2" fill="#ff0051"/><circle cx="991.4" cy="556.6" r="5.2" fill="#c70098"/><circle cx="1000.1" cy="548.6" r="5.2" fill="#ff0051"/><circle cx="982.5" cy="560.6" r="5.2" fill="#c70098"/><circle cx="984.4" cy="552.6" r="5.2" fill="#e50080"/><circle cx="971.0" cy="548.6" r="5.2" fill="#e50080"/><circle cx="1012.7" cy="544.6" r="5.2" fill="#e50080"/><circle cx="1005.1" cy="556.6" r="5.2" fill="#e50080"/><circle cx="1014.3" cy="540.6" r="5.2" fill="#4664e4"/><circle cx="1052.8" cy="556.6" r="5.2" fill="#c70098"/><circle cx="994.2" cy="544.6" r="5.2" fill="#c70098"/><circle cx="1025.8" cy="556.6" r="5.2" fill="#e50080"/><circle cx="994.9" cy="544.6" r="5.2" fill="#4664e4"/><circle cx="1003.9" cy="560.6" r="5.2" fill="#e50080"/><circle cx="1027.4" cy="548.6" r="5.2" fill="#e50080"/><circle cx="976.0" cy="540.6" r="5.2" fill="#c70098"/><circle cx="1045.3" cy="556.6" r="5.2" fill="#e50080"/><circle cx="973.2" cy="544.6" r="5.2" fill="#4664e4"/><circle cx="994.0" cy="564.6" r="5.2" fill="#c70098"/><circle cx="976.8" cy="548.6" r="5.2" fill="#c70098"/><circle cx="981.2" cy="556.6" r="5.2" fill="#ff0051"/><circle cx="1033.7" cy="560.6" r="5.2" fill="#e50080"/><circle cx="971.8" cy="544.6" r="5.2" fill="#4664e4"/><circle cx="1005.1" cy="568.6" r="5.2" fill="#c70098"/><circle cx="986.6" cy="536.6" r="5.2" fill="#c70098"/><circle cx="1023.2" cy="560.6" r="5.2" fill="#e50080"/><circle cx="1019.9" cy="552.6" r="5.2" fill="#4664e4"/><circle cx="981.6" cy="540.6" r="5.2" fill="#c70098"/><circle cx="979.9" cy="536.6" r="5.2" fill="#aa17a7"/><circle cx="996.7" cy="540.6" r="5.2" fill="#764ed0"/><circle cx="977.9" cy="556.6" r="5.2" fill="#c70098"/><circle cx="1019.1" cy="548.6" r="5.2" fill="#e50080"/><circle cx="971.7" cy="556.6" r="5.2" fill="#aa17a7"/><circle cx="996.8" cy="536.6" r="5.2" fill="#aa17a7"/><circle cx="1056.7" cy="548.6" r="5.2" fill="#e50080"/><circle cx="1022.2" cy="540.6" r="5.2" fill="#e50080"/><circle cx="949.8" cy="556.6" r="5.2" fill="#c70098"/><circle cx="1001.9" cy="564.6" r="5.2" fill="#c70098"/><circle cx="1014.3" cy="556.6" r="5.2" fill="#c70098"/><circle cx="1000.4" cy="536.6" r="5.2" fill="#e50080"/><circle cx="983.3" cy="560.6" r="5.2" fill="#c70098"/><circle cx="998.9" cy="564.6" r="5.2" fill="#aa17a7"/><circle cx="979.6" cy="544.6" r="5.2" fill="#c70098"/><circle cx="995.4" cy="532.6" r="5.2" fill="#c70098"/><circle cx="1020.0" cy="556.6" r="5.2" fill="#c70098"/><circle cx="984.8" cy="544.6" r="5.2" fill="#c70098"/><circle cx="991.7" cy="532.6" r="5.2" fill="#aa17a7"/><circle cx="966.7" cy="560.6" r="5.2" fill="#c70098"/><circle cx="969.6" cy="560.6" r="5.2" fill="#e50080"/><circle cx="989.5" cy="564.6" r="5.2" fill="#c70098"/><circle cx="978.8" cy="552.6" r="5.2" fill="#4664e4"/><circle cx="1010.0" cy="548.6" r="5.2" fill="#008bfb"/><circle cx="1055.8" cy="556.6" r="5.2" fill="#c70098"/><circle cx="1003.8" cy="540.6" r="5.2" fill="#c70098"/><circle cx="979.1" cy="536.6" r="5.2" fill="#9233b9"/><circle cx="996.9" cy="560.6" r="5.2" fill="#c70098"/><circle cx="1052.2" cy="544.6" r="5.2" fill="#c70098"/><circle cx="1047.5" cy="548.6" r="5.2" fill="#ff0051"/><circle cx="1008.7" cy="532.6" r="5.2" fill="#ff0051"/><circle cx="948.2" cy="548.6" r="5.2" fill="#e50080"/><circle cx="963.3" cy="556.6" r="5.2" fill="#e50080"/><circle cx="984.5" cy="564.6" r="5.2" fill="#e50080"/><circle cx="1035.7" cy="548.6" r="5.2" fill="#e50080"/><circle cx="968.7" cy="552.6" r="5.2" fill="#aa17a7"/><circle cx="990.2" cy="556.6" r="5.2" fill="#f80067"/><circle cx="991.9" cy="552.6" r="5.2" fill="#c70098"/><circle cx="985.8" cy="540.6" r="5.2" fill="#e50080"/><circle cx="1036.9" cy="552.6" r="5.2" fill="#ff0051"/><circle cx="970.9" cy="544.6" r="5.2" fill="#4664e4"/><circle cx="1020.1" cy="540.6" r="5.2" fill="#ff0051"/><circle cx="1006.2" cy="544.6" r="5.2" fill="#c70098"/><circle cx="987.0" cy="552.6" r="5.2" fill="#e50080"/><circle cx="1025.1" cy="548.6" r="5.2" fill="#4664e4"/><circle cx="1031.4" cy="556.6" r="5.2" fill="#ff0051"/><circle cx="1056.8" cy="544.6" r="5.2" fill="#9233b9"/><circle cx="994.7" cy="568.6" r="5.2" fill="#c70098"/><circle cx="1012.8" cy="552.6" r="5.2" fill="#c70098"/><circle cx="990.0" cy="540.6" r="5.2" fill="#764ed0"/><circle cx="985.2" cy="560.6" r="5.2" fill="#c70098"/><circle cx="1004.3" cy="548.6" r="5.2" fill="#ff0051"/><circle cx="999.0" cy="556.6" r="5.2" fill="#ff0051"/><circle cx="1014.7" cy="540.6" r="5.2" fill="#ff0051"/><circle cx="1001.1" cy="532.6" r="5.2" fill="#e50080"/><circle cx="1006.1" cy="560.6" r="5.2" fill="#aa17a7"/><circle cx="1033.3" cy="560.6" r="5.2" fill="#c70098"/><circle cx="1020.5" cy="548.6" r="5.2" fill="#ff0051"/><circle cx="963.2" cy="544.6" r="5.2" fill="#008bfb"/><circle cx="1000.1" cy="552.6" r="5.2" fill="#c70098"/><circle cx="1004.7" cy="572.6" r="5.2" fill="#ff0051"/><circle cx="1022.4" cy="544.6" r="5.2" fill="#ff0051"/><circle cx="1019.9" cy="552.6" r="5.2" fill="#aa17a7"/><circle cx="1010.5" cy="548.6" r="5.2" fill="#4664e4"/><circle cx="1021.4" cy="544.6" r="5.2" fill="#f80067"/><circle cx="1043.2" cy="556.6" r="5.2" fill="#f80067"/><circle cx="992.0" cy="548.6" r="5.2" fill="#c70098"/><circle cx="1030.3" cy="540.6" r="5.2" fill="#4664e4"/><circle cx="1033.8" cy="556.6" r="5.2" fill="#c70098"/><circle cx="1022.1" cy="560.6" r="5.2" fill="#c70098"/><circle cx="1047.4" cy="552.6" r="5.2" fill="#e50080"/><circle cx="993.6" cy="540.6" r="5.2" fill="#aa17a7"/><circle cx="1027.2" cy="564.6" r="5.2" fill="#c70098"/><circle cx="989.9" cy="560.6" r="5.2" fill="#c70098"/><circle cx="976.7" cy="536.6" r="5.2" fill="#aa17a7"/><circle cx="1040.5" cy="544.6" r="5.2" fill="#e50080"/><circle cx="1039.6" cy="556.6" r="5.2" fill="#ff0051"/><circle cx="1014.1" cy="560.6" r="5.2" fill="#f80067"/><circle cx="1002.1" cy="572.6" r="5.2" fill="#f80067"/><circle cx="981.3" cy="540.6" r="5.2" fill="#e50080"/><circle cx="1018.8" cy="560.6" r="5.2" fill="#e50080"/><circle cx="810.4" cy="552.6" r="5.2" fill="#008bfb"/><circle cx="851.1" cy="552.6" r="5.2" fill="#c70098"/><circle cx="879.2" cy="552.6" r="5.2" fill="#4664e4"/><circle cx="883.2" cy="552.6" r="5.2" fill="#4664e4"/><circle cx="912.5" cy="552.6" r="5.2" fill="#ff0051"/><circle cx="922.3" cy="552.6" r="5.2" fill="#4664e4"/><circle cx="931.5" cy="552.6" r="5.2" fill="#c70098"/><circle cx="932.0" cy="548.6" r="5.2" fill="#4664e4"/><circle cx="938.0" cy="548.6" r="5.2" fill="#c70098"/><circle cx="938.0" cy="552.6" r="5.2" fill="#c70098"/><circle cx="941.8" cy="548.6" r="5.2" fill="#ff0051"/><circle cx="941.8" cy="552.6" r="5.2" fill="#c70098"/><circle cx="941.8" cy="556.6" r="5.2" fill="#c70098"/><circle cx="945.0" cy="548.6" r="5.2" fill="#c70098"/><circle cx="945.0" cy="552.6" r="5.2" fill="#ff0051"/><circle cx="945.0" cy="556.6" r="5.2" fill="#c70098"/><circle cx="952.0" cy="548.6" r="5.2" fill="#c70098"/><circle cx="952.0" cy="552.6" r="5.2" fill="#c70098"/><circle cx="952.0" cy="556.6" r="5.2" fill="#c70098"/><circle cx="955.4" cy="548.6" r="5.2" fill="#c70098"/><circle cx="955.4" cy="552.6" r="5.2" fill="#ff0051"/><circle cx="955.4" cy="556.6" r="5.2" fill="#c70098"/><circle cx="958.4" cy="548.6" r="5.2" fill="#008bfb"/><circle cx="960.0" cy="548.6" r="5.2" fill="#ff0051"/><circle cx="960.0" cy="552.6" r="5.2" fill="#c70098"/><circle cx="960.0" cy="556.6" r="5.2" fill="#c70098"/><circle cx="1061.0" cy="548.6" r="5.2" fill="#ff0051"/><circle cx="1061.0" cy="552.6" r="5.2" fill="#ff0051"/><circle cx="1061.0" cy="556.6" r="5.2" fill="#ff0051"/><circle cx="1065.3" cy="548.6" r="5.2" fill="#ff0051"/><circle cx="1065.3" cy="552.6" r="5.2" fill="#ff0051"/><circle cx="1065.3" cy="556.6" r="5.2" fill="#ff0051"/><circle cx="1063.7" cy="548.6" r="5.2" fill="#4664e4"/><circle cx="1066.5" cy="548.6" r="5.2" fill="#4664e4"/><circle cx="1075.3" cy="552.6" r="5.2" fill="#4664e4"/><circle cx="1077.6" cy="548.6" r="5.2" fill="#c70098"/><circle cx="1083.7" cy="548.6" r="5.2" fill="#c70098"/><circle cx="1083.0" cy="552.6" r="5.2" fill="#c70098"/><circle cx="1080.0" cy="552.6" r="5.2" fill="#c70098"/><circle cx="1093.6" cy="552.6" r="5.2" fill="#4664e4"/><circle cx="1106.7" cy="548.6" r="5.2" fill="#008bfb"/><circle cx="1105.1" cy="552.6" r="5.2" fill="#4664e4"/><rect x="555" y="629.5" width="719" height="2" fill="#000"/><rect x="622.4" y="631" width="2" height="9" fill="#333"/><text class="t" transform="translate(623.4,670.0) scale(1,1.05)" font-size="28" fill="#333" text-anchor="middle">-2.0</text><rect x="716.8" y="631" width="2" height="9" fill="#333"/><text class="t" transform="translate(717.8,670.0) scale(1,1.05)" font-size="28" fill="#333" text-anchor="middle">-1.5</text><rect x="811.2" y="631" width="2" height="9" fill="#333"/><text class="t" transform="translate(812.2,670.0) scale(1,1.05)" font-size="28" fill="#333" text-anchor="middle">-1.0</text><rect x="905.6" y="631" width="2" height="9" fill="#333"/><text class="t" transform="translate(906.6,670.0) scale(1,1.05)" font-size="28" fill="#333" text-anchor="middle">-0.5</text><rect x="1000.0" y="631" width="2" height="9" fill="#333"/><text class="t" transform="translate(1001.0,670.0) scale(1,1.05)" font-size="28" fill="#333" text-anchor="middle">0.0</text><rect x="1094.4" y="631" width="2" height="9" fill="#333"/><text class="t" transform="translate(1095.4,670.0) scale(1,1.05)" font-size="28" fill="#333" text-anchor="middle">0.5</text><rect x="1188.8" y="631" width="2" height="9" fill="#333"/><text class="t" transform="translate(1189.8,670.0) scale(1,1.05)" font-size="28" fill="#333" text-anchor="middle">1.0</text><text class="t" transform="translate(914.5,710.0) scale(1,1.05)" font-size="34" fill="#000" text-anchor="middle">SHAP value (impact on model output)</text><text class="t" transform="translate(495,100.6) scale(1,1.05)" font-size="34" fill="#333" text-anchor="end">Minimum temperature 2m (°C)</text><text class="t" transform="translate(495,178.0) scale(1,1.05)" font-size="34" fill="#333" text-anchor="end">Hours of sunshine (peak, h)</text><text class="t" transform="translate(495,255.4) scale(1,1.05)" font-size="34" fill="#333" text-anchor="end">Wind speed 2m (m/s)</text><text class="t" transform="translate(495,332.9) scale(1,1.05)" font-size="34" fill="#333" text-anchor="end">Relative humidity (%)</text><text class="t" transform="translate(495,410.3) scale(1,1.05)" font-size="34" fill="#333" text-anchor="end">Maximum temperature 2m (°C)</text><text class="t" transform="translate(495,487.7) scale(1,1.05)" font-size="34" fill="#333" text-anchor="end">Precipitation (mm)</text><text class="t" transform="translate(495,565.1) scale(1,1.05)" font-size="34" fill="#333" text-anchor="end">Average air temperature 2m (°C)</text><rect x="1318" y="11" width="7" height="619" fill="url(#cb)"/><text class="t" transform="translate(1335,20.7) scale(1,1.05)" font-size="28" fill="#000">High</text><text class="t" transform="translate(1334.5,640.5) scale(1,1.05)" font-size="28" fill="#000">Low</text><text class="t" transform="translate(1416,320.5) rotate(-90) scale(1,1.05)" font-size="31.4" fill="#000" text-anchor="middle">Feature value</text></svg>
</body></html>
